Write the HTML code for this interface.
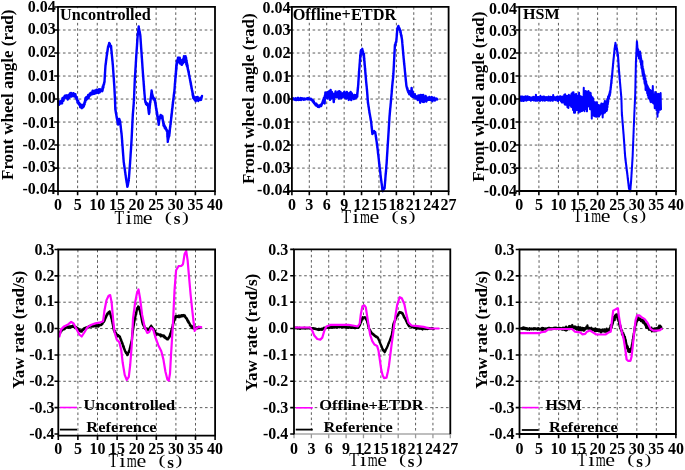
<!DOCTYPE html><html><head><meta charset="utf-8"><style>html,body{margin:0;padding:0;background:#fff;width:685px;height:470px;overflow:hidden}svg{display:block}#w{width:685px;height:470px;will-change:transform}text{font-family:"Liberation Serif",serif}</style></head><body>
<div id="w">
<svg width="685" height="470" viewBox="0 0 685 470">
<g>
<rect width="685" height="470" fill="#fff"/>
<path d="M77.62 7.10V190.10M97.25 7.10V190.10M116.88 7.10V190.10M136.50 7.10V190.10M156.12 7.10V190.10M175.75 7.10V190.10M195.38 7.10V190.10M57.70 30.01H214.00M57.70 53.02H214.00M57.70 76.04H214.00M57.70 99.05H214.00M57.70 122.06H214.00M57.70 145.07H214.00M57.70 168.09H214.00" stroke="#5c5c5c" stroke-width="1.0" stroke-dasharray="2.6 2.65" fill="none"/>
<path d="M309.31 7.00V190.10M326.72 7.00V190.10M344.13 7.00V190.10M361.54 7.00V190.10M378.96 7.00V190.10M396.37 7.00V190.10M413.78 7.00V190.10M431.19 7.00V190.10M291.60 30.01H447.60M291.60 53.02H447.60M291.60 76.04H447.60M291.60 99.05H447.60M291.60 122.06H447.60M291.60 145.07H447.60M291.60 168.09H447.60" stroke="#5c5c5c" stroke-width="1.0" stroke-dasharray="2.6 2.65" fill="none"/>
<path d="M538.88 7.10V190.00M558.45 7.10V190.00M578.02 7.10V190.00M597.60 7.10V190.00M617.17 7.10V190.00M636.75 7.10V190.00M656.33 7.10V190.00M519.00 30.01H674.90M519.00 53.02H674.90M519.00 76.04H674.90M519.00 99.05H674.90M519.00 122.06H674.90M519.00 145.07H674.90M519.00 168.09H674.90" stroke="#5c5c5c" stroke-width="1.0" stroke-dasharray="2.6 2.65" fill="none"/>
<path d="M77.90 249.70V434.70M97.50 249.70V434.70M117.10 249.70V434.70M136.70 249.70V434.70M156.30 249.70V434.70M175.90 249.70V434.70M195.50 249.70V434.70M58.00 275.86H214.10M58.00 302.21H214.10M58.00 328.57H214.10M58.00 354.93H214.10M58.00 381.29H214.10M58.00 407.64H214.10" stroke="#5c5c5c" stroke-width="1.0" stroke-dasharray="2.6 2.65" fill="none"/>
<path d="M311.37 249.50V433.00M328.73 249.50V433.00M346.10 249.50V433.00M363.47 249.50V433.00M380.83 249.50V433.00M398.20 249.50V433.00M415.57 249.50V433.00M432.93 249.50V433.00M293.70 275.77H449.30M293.70 302.14H449.30M293.70 328.51H449.30M293.70 354.89H449.30M293.70 381.26H449.30M293.70 407.63H449.30" stroke="#5c5c5c" stroke-width="1.0" stroke-dasharray="2.6 2.65" fill="none"/>
<path d="M539.05 249.70V433.00M558.60 249.70V433.00M578.15 249.70V433.00M597.70 249.70V433.00M617.25 249.70V433.00M636.80 249.70V433.00M656.35 249.70V433.00M519.20 275.86H674.90M519.20 302.21H674.90M519.20 328.57H674.90M519.20 354.93H674.90M519.20 381.29H674.90M519.20 407.64H674.90" stroke="#5c5c5c" stroke-width="1.0" stroke-dasharray="2.6 2.65" fill="none"/>
<rect x="59.2" y="8.2" width="94" height="13.6" fill="#fff"/>
<rect x="293" y="8.2" width="105" height="13.6" fill="#fff"/>
<rect x="520.5" y="8.2" width="38.3" height="13.6" fill="#fff"/>
<polyline points="58.20,101.50 58.60,101.15 59.00,104.87 59.85,101.71 60.70,103.56 61.04,100.88 61.39,102.38 61.73,100.50 62.07,103.30 62.41,98.10 62.76,100.96 63.10,97.68 63.52,100.69 63.94,97.19 64.36,98.06 64.78,95.82 65.20,97.62 65.85,95.54 66.50,98.18 67.15,95.34 67.80,99.45 68.22,96.33 68.63,97.73 69.05,94.77 69.47,97.74 69.88,93.56 70.30,95.72 70.94,92.95 71.58,96.60 72.22,93.65 72.86,95.72 73.50,93.12 73.97,96.30 74.45,94.09 74.93,96.55 75.40,94.09 75.63,97.67 75.87,96.12 76.10,98.20 76.33,97.32 76.57,99.41 76.80,97.12 77.03,100.64 77.27,99.45 77.50,102.64 77.73,100.68 77.97,102.76 78.20,100.83 78.60,103.96 79.00,102.87 79.40,104.96 79.80,103.60 80.20,107.19 80.60,104.35 81.00,107.03 81.40,104.84 81.80,108.17 82.43,105.24 83.07,107.25 83.70,104.11 83.88,106.52 84.06,104.14 84.24,105.06 84.42,102.71 84.60,104.39 84.78,101.61 84.96,102.48 85.14,99.87 85.32,102.02 85.50,98.04 85.95,100.14 86.40,96.91 86.85,99.29 87.30,96.64 87.75,98.54 88.20,94.90 88.62,98.08 89.04,94.66 89.47,96.18 89.89,93.46 90.31,95.21 90.73,92.84 91.16,94.56 91.58,92.39 92.00,94.26 92.65,90.72 93.30,93.93 93.95,90.91 94.60,93.70 95.25,90.38 95.90,93.20 96.53,89.72 97.17,92.51 97.80,90.29 98.43,93.07 99.07,89.13 99.70,92.38 100.35,89.34 101.00,91.07 101.65,89.50 102.30,91.25 102.47,87.73 102.64,90.19 102.81,86.41 102.99,88.41 103.16,86.02 103.33,87.74 103.50,84.69 103.67,85.47 103.83,83.87 104.00,84.31 104.17,82.32 104.33,82.93 104.50,81.52 104.54,81.87 104.57,79.97 104.61,80.30 104.64,78.90 104.68,79.04 104.72,77.56 104.75,77.85 104.79,76.09 104.82,76.72 104.86,74.36 104.90,75.62 104.93,74.05 104.97,74.04 105.00,72.38 105.04,73.24 105.08,71.43 105.11,71.87 105.15,70.16 105.18,70.76 105.22,68.90 105.26,69.32 105.29,68.01 105.33,68.23 105.36,66.67 105.40,66.99 105.48,65.23 105.56,65.55 105.64,63.78 105.71,64.64 105.79,62.98 105.87,63.17 105.95,61.60 106.03,62.09 106.11,59.98 106.19,60.68 106.26,58.88 106.34,59.41 106.42,57.91 106.50,58.39 106.59,56.51 106.68,56.77 106.76,55.10 106.85,55.46 106.94,54.10 107.03,54.83 107.12,52.20 107.21,53.46 107.29,51.82 107.38,51.88 107.47,50.52 107.56,51.09 107.65,49.04 107.74,49.96 107.82,48.28 107.91,48.35 108.00,46.85 108.20,47.42 108.40,45.70 108.60,46.09 108.80,44.42 109.00,44.84 109.20,42.89 109.52,44.49 109.83,43.64 110.15,45.98 110.47,45.39 110.78,46.91 111.10,45.94 111.16,48.10 111.22,47.44 111.28,49.16 111.33,49.15 111.39,50.70 111.45,50.19 111.51,51.55 111.57,51.11 111.63,53.62 111.69,52.76 111.74,54.26 111.80,53.90 111.86,55.16 111.92,55.22 111.98,56.44 112.04,56.22 112.10,57.71 112.16,57.44 112.21,58.84 112.27,58.59 112.33,60.44 112.39,59.65 112.45,61.58 112.51,60.84 112.57,62.54 112.62,62.46 112.68,64.11 112.74,63.67 112.80,64.94 112.84,64.53 112.89,66.47 112.93,66.01 112.97,67.28 113.01,67.06 113.06,69.03 113.10,68.39 113.14,69.94 113.19,69.77 113.23,71.17 113.27,70.80 113.31,72.41 113.36,72.21 113.40,73.81 113.44,72.98 113.49,74.59 113.53,74.50 113.57,75.93 113.61,75.69 113.66,77.72 113.70,76.79 113.74,78.29 113.79,77.98 113.83,79.51 113.87,78.96 113.91,81.15 113.96,80.44 114.00,82.19 114.04,81.72 114.09,83.64 114.13,83.13 114.17,84.70 114.21,84.01 114.26,86.02 114.30,85.31 114.33,87.15 114.36,86.52 114.39,88.12 114.42,88.11 114.45,89.52 114.48,89.25 114.51,90.76 114.54,90.24 114.57,91.90 114.60,91.23 114.63,93.24 114.67,91.84 114.70,94.41 114.73,94.15 114.76,95.35 114.79,95.31 114.82,96.65 114.85,96.44 114.88,98.32 114.91,97.36 114.94,99.44 114.97,98.86 115.00,100.25 115.02,100.31 115.04,101.50 115.06,100.84 115.08,103.16 115.10,102.52 115.12,103.99 115.14,103.64 115.16,105.15 115.18,104.76 115.20,106.59 115.22,106.31 115.24,107.60 115.26,106.68 115.28,109.19 115.30,108.74 115.41,110.06 115.52,109.48 115.62,111.37 115.73,110.92 115.84,112.94 115.95,112.25 116.05,113.96 116.16,113.49 116.27,115.16 116.38,114.87 116.48,116.38 116.59,116.05 116.70,117.84 116.82,116.99 116.93,119.00 117.05,118.70 117.17,120.22 117.28,119.77 117.40,121.33 117.52,120.82 117.63,122.56 117.75,122.19 117.87,123.86 117.98,123.26 118.10,124.64 118.21,123.09 118.32,123.47 118.44,122.05 118.55,122.15 118.66,120.59 118.78,120.64 118.89,119.04 119.00,119.26 119.28,118.91 119.55,120.79 119.82,120.30 120.10,121.97 120.17,121.35 120.24,122.90 120.31,122.52 120.38,124.18 120.45,124.10 120.52,125.24 120.59,125.09 120.66,126.79 120.73,126.18 120.80,127.75 120.87,127.78 120.93,129.27 121.00,128.92 121.07,130.27 121.14,130.10 121.21,131.71 121.28,130.98 121.35,133.07 121.42,132.29 121.49,133.93 121.56,133.42 121.63,135.12 121.70,135.01 121.75,136.42 121.79,136.32 121.84,137.89 121.89,137.16 121.93,138.76 121.98,138.35 122.03,139.93 122.07,139.80 122.12,141.68 122.17,140.32 122.21,142.62 122.26,142.48 122.30,143.97 122.35,143.70 122.40,144.86 122.44,144.63 122.49,146.12 122.54,145.93 122.58,147.43 122.63,146.86 122.68,148.71 122.72,148.25 122.77,150.21 122.82,149.40 122.86,151.39 122.91,150.62 122.96,152.68 123.00,152.04 123.05,153.80 123.10,153.33 123.14,154.98 123.19,154.58 123.23,155.89 123.28,155.84 123.33,157.06 123.37,157.15 123.42,158.67 123.47,158.39 123.51,159.77 123.56,159.62 123.61,160.78 123.65,160.76 123.70,162.23 123.79,162.01 123.88,163.23 123.96,163.19 124.05,164.84 124.14,164.45 124.22,166.14 124.31,165.52 124.40,167.09 124.49,167.00 124.58,168.53 124.66,168.00 124.75,169.44 124.84,169.15 124.92,170.57 125.01,170.56 125.10,172.17 125.19,171.89 125.28,173.17 125.36,172.71 125.45,174.58 125.54,174.31 125.62,175.55 125.71,175.64 125.80,177.19 125.89,176.86 125.99,178.34 126.08,177.90 126.18,179.74 126.27,178.89 126.36,180.86 126.46,180.08 126.55,182.12 126.65,181.57 126.74,182.97 126.84,182.93 126.93,184.17 127.02,184.08 127.12,185.54 127.21,185.49 127.31,186.83 127.40,186.32 127.53,186.61 127.65,185.13 127.78,185.60 127.91,184.21 128.04,184.48 128.16,182.64 128.29,182.94 128.42,181.55 128.55,181.68 128.67,180.30 128.80,180.61 128.85,178.63 128.89,179.38 128.94,177.48 128.98,177.83 129.03,176.36 129.07,176.62 129.12,175.03 129.16,175.36 129.21,174.19 129.25,174.28 129.30,172.52 129.34,173.12 129.39,171.40 129.43,171.82 129.48,170.06 129.52,170.60 129.57,168.79 129.61,169.53 129.66,168.11 129.70,168.12 129.75,166.86 129.79,166.99 129.84,165.23 129.88,165.58 129.93,163.95 129.97,164.45 130.02,163.17 130.06,163.63 130.11,161.62 130.15,161.92 130.20,160.45 130.24,160.66 130.28,159.27 130.32,159.55 130.36,158.19 130.40,158.25 130.44,157.08 130.48,157.25 130.52,155.65 130.55,156.28 130.59,154.27 130.63,154.61 130.67,153.38 130.71,153.45 130.75,151.84 130.79,152.41 130.83,151.06 130.87,151.49 130.91,149.53 130.95,150.06 130.99,148.48 131.03,149.46 131.07,147.36 131.11,147.35 131.15,145.95 131.18,146.33 131.22,144.73 131.26,145.63 131.30,143.46 131.34,144.19 131.38,142.37 131.42,142.76 131.46,140.98 131.50,141.46 131.53,139.71 131.56,140.21 131.59,138.68 131.62,139.06 131.65,137.55 131.68,138.03 131.71,136.16 131.74,136.78 131.77,134.93 131.80,135.90 131.83,134.07 131.86,134.21 131.89,132.89 131.92,133.02 131.95,131.57 131.98,131.91 132.01,129.98 132.04,130.69 132.07,129.09 132.10,129.23 132.13,127.79 132.17,127.97 132.20,126.82 132.23,127.86 132.26,125.55 132.29,125.94 132.32,123.95 132.35,124.48 132.38,122.53 132.41,123.11 132.44,121.89 132.47,122.40 132.50,120.60 132.53,120.80 132.56,119.11 132.59,119.92 132.62,118.18 132.65,118.74 132.68,117.11 132.71,117.12 132.74,115.96 132.77,116.21 132.80,114.27 132.85,115.00 132.90,113.21 132.94,113.64 132.99,112.28 133.04,112.60 133.09,111.10 133.14,111.37 133.18,109.80 133.23,110.32 133.28,108.68 133.33,109.15 133.38,107.45 133.42,107.46 133.47,106.17 133.52,106.87 133.57,104.87 133.62,105.13 133.66,103.94 133.71,104.23 133.76,102.65 133.81,102.70 133.86,100.38 133.90,101.65 133.95,100.20 134.00,100.47 134.02,98.89 134.05,99.17 134.07,97.53 134.09,98.04 134.12,96.38 134.14,97.12 134.16,95.11 134.19,95.68 134.21,94.11 134.23,94.58 134.26,93.00 134.28,93.04 134.30,91.27 134.33,92.03 134.35,90.39 134.37,90.59 134.40,89.44 134.42,89.51 134.44,88.13 134.47,88.13 134.49,86.75 134.51,87.31 134.54,85.76 134.56,85.69 134.58,84.29 134.61,84.57 134.63,83.36 134.65,83.31 134.68,82.12 134.70,82.48 134.74,80.93 134.77,80.97 134.81,78.56 134.85,79.81 134.89,77.95 134.92,78.57 134.96,77.27 135.00,77.63 135.03,75.89 135.07,76.11 135.11,74.83 135.15,75.09 135.18,73.53 135.22,73.74 135.26,72.18 135.30,72.40 135.33,70.62 135.37,71.04 135.41,69.17 135.44,69.95 135.48,68.25 135.52,69.06 135.56,67.33 135.59,67.52 135.63,66.19 135.67,66.20 135.70,64.99 135.74,64.99 135.78,63.70 135.82,64.25 135.85,62.14 135.89,62.63 135.93,61.03 135.97,61.62 136.00,60.09 136.04,60.19 136.08,58.57 136.11,58.95 136.15,57.19 136.19,57.97 136.23,55.40 136.26,56.48 136.30,55.24 136.34,55.26 136.38,53.41 136.43,54.07 136.47,52.80 136.51,53.39 136.55,51.46 136.60,51.71 136.64,50.01 136.68,50.60 136.72,49.09 136.77,49.11 136.81,47.74 136.85,48.25 136.89,46.58 136.94,46.89 136.98,45.46 137.02,45.60 137.06,43.70 137.11,44.44 137.15,42.94 137.19,43.22 137.23,41.33 137.28,41.97 137.32,40.38 137.36,40.45 137.40,39.21 137.45,39.32 137.49,37.95 137.53,38.04 137.57,36.81 137.62,36.90 137.66,35.62 137.70,35.89 137.78,33.61 137.85,34.46 137.93,33.18 138.01,33.06 138.08,31.67 138.16,31.93 138.24,30.69 138.32,31.04 138.39,29.35 138.47,29.37 138.55,27.91 138.62,28.21 138.70,26.44 138.82,28.37 138.95,28.03 139.07,29.41 139.19,28.98 139.32,31.64 139.44,30.66 139.56,31.92 139.68,31.40 139.81,33.11 139.93,32.85 140.05,34.29 140.18,34.27 140.30,35.76 140.34,35.42 140.38,37.03 140.43,36.36 140.47,38.13 140.51,38.00 140.55,39.56 140.60,38.81 140.64,40.49 140.68,40.35 140.72,41.81 140.77,41.41 140.81,42.97 140.85,42.89 140.89,44.35 140.94,44.02 140.98,45.36 141.02,45.43 141.06,46.96 141.11,46.64 141.15,48.82 141.19,47.82 141.23,49.42 141.28,48.78 141.32,50.59 141.36,50.23 141.40,51.90 141.45,51.32 141.49,53.04 141.53,52.37 141.57,53.94 141.62,53.70 141.66,55.43 141.70,54.98 141.74,56.89 141.78,56.14 141.83,57.88 141.87,57.20 141.91,58.81 141.95,58.68 142.00,60.13 142.04,59.60 142.08,61.68 142.12,61.13 142.17,62.63 142.21,62.19 142.25,63.81 142.29,63.53 142.34,65.47 142.38,64.71 142.42,66.57 142.46,66.22 142.51,67.88 142.55,67.28 142.59,69.02 142.63,68.46 142.68,70.12 142.72,69.87 142.76,71.19 142.80,70.96 142.85,72.75 142.89,72.38 142.93,73.71 142.97,73.55 143.02,74.93 143.06,74.42 143.10,75.95 143.15,75.75 143.19,77.27 143.24,76.83 143.29,78.57 143.33,78.14 143.38,79.61 143.43,79.69 143.47,80.97 143.52,80.83 143.57,82.04 143.61,81.02 143.66,83.50 143.71,82.98 143.75,84.65 143.80,84.17 143.85,86.25 143.89,85.31 143.94,87.28 143.99,85.97 144.03,88.41 144.08,88.11 144.13,89.68 144.17,89.34 144.22,90.73 144.27,90.22 144.31,91.83 144.36,91.55 144.41,93.40 144.45,92.81 144.50,94.27 144.56,94.25 144.63,95.51 144.69,95.50 144.75,97.04 144.82,96.87 144.88,98.19 144.95,98.18 145.01,99.52 145.07,99.40 145.14,100.99 145.20,100.63 145.47,102.53 145.75,101.92 146.03,104.01 146.30,102.81 146.83,104.86 147.37,103.37 147.90,106.07 147.98,104.37 148.06,106.46 148.14,105.35 148.21,108.27 148.29,106.93 148.37,109.40 148.45,107.23 148.53,110.65 148.61,109.12 148.69,112.27 148.76,110.48 148.84,113.22 148.92,111.36 149.00,114.02 149.07,112.04 149.13,112.91 149.20,110.01 149.27,112.28 149.33,108.85 149.40,112.42 149.47,107.54 149.53,109.01 149.60,106.86 149.67,108.54 149.73,105.83 149.80,106.44 149.87,104.01 149.93,105.36 150.00,102.71 150.08,104.49 150.16,101.58 150.24,103.07 150.32,101.18 150.40,102.48 150.48,99.92 150.56,100.67 150.64,98.18 150.72,99.17 150.80,97.43 150.88,98.87 150.96,96.22 151.04,97.77 151.12,94.87 151.20,96.12 151.28,93.36 151.36,94.42 151.44,92.03 151.52,93.16 151.60,90.49 151.74,93.36 151.88,91.58 152.01,94.99 152.15,93.63 152.29,95.51 152.42,94.68 152.56,96.94 152.70,95.76 153.03,98.16 153.37,97.45 153.70,99.50 154.70,98.70 154.80,101.16 154.90,99.11 155.00,102.47 155.10,100.26 155.20,103.29 155.30,102.19 155.40,104.37 155.50,103.12 155.60,105.71 155.70,104.04 155.80,106.94 155.90,105.36 156.00,108.36 156.10,107.39 156.20,109.06 156.30,108.35 156.40,110.89 156.50,108.90 156.60,111.45 156.70,110.68 156.80,113.08 156.90,111.64 157.00,114.96 157.11,112.43 157.21,116.00 157.32,114.08 157.42,116.41 157.53,115.70 157.64,117.78 157.74,117.14 157.85,118.96 157.95,117.77 158.06,120.22 158.16,119.17 158.27,121.55 158.38,120.28 158.48,122.68 158.59,122.27 158.69,124.90 158.80,123.51 158.87,124.32 158.93,122.14 159.00,122.75 159.07,120.82 159.13,121.28 159.20,119.12 159.27,120.70 159.33,117.25 159.40,118.73 159.82,116.50 160.25,118.29 160.68,114.91 161.10,117.26 161.70,115.52 162.30,118.41 162.40,116.12 162.50,118.83 162.60,117.65 162.70,120.08 162.80,119.63 162.90,121.46 163.00,120.26 163.10,122.50 163.20,122.10 163.30,123.79 163.40,123.13 163.50,125.62 163.83,123.56 164.16,126.61 164.49,125.44 164.81,128.08 165.14,126.64 165.47,128.92 165.80,127.75 166.15,129.70 166.50,129.29 166.85,131.39 167.20,130.36 167.24,132.42 167.28,131.35 167.32,134.15 167.36,133.05 167.40,136.96 167.44,133.75 167.48,136.22 167.52,135.28 167.56,137.77 167.60,136.60 167.64,138.92 167.68,138.10 167.72,139.90 167.76,138.55 167.80,141.90 167.95,139.20 168.10,139.83 168.25,137.34 168.40,138.83 168.55,136.20 168.70,137.41 168.85,135.80 169.00,136.70 169.15,133.11 169.30,136.01 169.37,132.04 169.44,134.52 169.52,131.52 169.59,133.55 169.66,130.17 169.73,132.10 169.80,129.37 169.88,130.19 169.95,127.80 170.02,128.97 170.09,126.67 170.16,127.75 170.24,125.87 170.31,127.00 170.38,124.75 170.45,125.75 170.52,123.61 170.60,125.18 170.67,122.09 170.74,123.49 170.81,120.80 170.88,121.93 170.96,119.98 171.03,120.50 171.10,118.68 171.17,119.27 171.24,117.03 171.30,118.27 171.37,115.48 171.44,117.28 171.51,114.06 171.58,116.20 171.64,113.73 171.71,114.82 171.78,112.67 171.85,113.36 171.92,111.10 171.98,112.35 172.05,109.27 172.12,111.02 172.19,108.29 172.26,109.59 172.32,107.82 172.39,108.62 172.46,106.37 172.53,107.84 172.60,104.64 172.66,106.38 172.73,104.07 172.80,104.93 172.87,102.31 172.95,104.01 173.02,101.20 173.10,102.82 173.17,100.39 173.24,101.31 173.32,98.81 173.39,99.88 173.47,97.99 173.54,98.33 173.61,96.80 173.69,97.19 173.76,95.08 173.83,96.45 173.91,94.14 173.98,95.08 174.06,92.91 174.13,93.87 174.20,92.12 174.28,92.31 174.35,90.82 174.43,91.08 174.50,89.11 174.55,89.95 174.59,88.37 174.64,88.41 174.68,86.85 174.73,87.64 174.78,85.67 174.82,86.42 174.87,83.62 174.92,85.38 174.96,83.44 175.01,83.86 175.05,81.65 175.10,82.38 175.15,80.55 175.21,81.29 175.26,79.25 175.31,80.37 175.37,77.94 175.42,79.04 175.47,75.97 175.53,77.55 175.58,75.49 175.63,77.53 175.69,73.23 175.74,76.34 175.79,73.25 175.85,74.79 175.90,71.12 175.95,74.40 176.01,69.96 176.06,71.69 176.11,67.86 176.17,71.22 176.22,66.58 176.27,70.25 176.33,65.40 176.38,68.96 176.43,63.94 176.49,68.90 176.54,63.82 176.59,65.84 176.65,62.77 176.70,65.65 176.95,60.53 177.20,63.73 177.45,60.46 177.70,62.52 177.95,57.72 178.20,61.24 178.45,57.79 178.70,60.02 179.04,57.87 179.39,61.23 179.73,57.68 180.08,63.59 180.42,60.27 180.77,63.33 181.11,60.71 181.46,64.72 181.80,60.47 182.07,64.77 182.35,59.74 182.62,63.56 182.89,59.72 183.16,63.10 183.44,58.40 183.71,60.81 183.98,56.18 184.25,61.83 184.53,56.82 184.80,60.88 185.06,56.62 185.31,60.06 185.57,56.25 185.83,61.31 186.09,57.70 186.34,64.62 186.60,60.40 186.72,63.93 186.84,62.33 186.96,66.17 187.07,63.38 187.19,65.92 187.31,64.46 187.43,67.89 187.55,65.36 187.67,68.24 187.79,67.64 187.91,69.95 188.03,69.14 188.14,70.76 188.26,69.93 188.38,71.93 188.50,71.14 188.62,73.01 188.75,71.49 188.88,74.67 189.00,74.19 189.12,75.50 189.25,75.04 189.38,76.77 189.50,76.42 189.62,78.18 189.75,77.95 189.88,79.19 190.00,78.82 190.12,80.69 190.25,80.29 190.38,82.27 190.50,81.48 190.61,83.16 190.73,82.28 190.84,84.74 190.95,83.51 191.07,85.59 191.18,85.16 191.29,86.96 191.41,86.15 191.52,88.35 191.63,87.67 191.75,89.08 191.86,88.62 191.97,90.39 192.09,90.08 192.20,91.50 192.31,90.74 192.42,92.64 192.53,91.99 192.64,94.87 192.75,93.13 192.86,95.99 192.97,93.69 193.08,96.58 193.19,95.25 193.30,98.28 193.64,96.23 193.98,98.97 194.32,97.21 194.66,99.85 195.00,97.62 195.67,101.32 196.33,97.23 197.00,100.15 197.67,97.02 198.33,101.01 199.00,98.59 199.67,99.84 200.33,97.79 201.00,99.97 202.00,95.93" stroke="#0000ff" stroke-width="2.4" fill="none" stroke-linejoin="round" stroke-linecap="round"/>
<polyline points="292.50,99.20 293.12,98.23 293.75,99.32 294.38,98.91 295.00,99.77 295.62,98.24 296.25,100.06 296.88,98.49 297.50,99.74 298.12,97.80 298.75,99.90 299.38,98.68 300.00,99.84 300.62,98.04 301.25,99.91 301.88,98.24 302.50,99.20 303.12,98.54 303.75,99.80 304.38,98.61 305.00,99.45 305.65,98.66 306.30,99.01 306.95,98.37 307.60,99.32 308.25,98.02 308.90,99.34 309.55,98.65 310.20,99.53 310.87,98.74 311.53,99.99 312.20,99.83 312.59,101.12 312.98,100.28 313.36,102.15 313.75,101.36 314.14,103.30 314.52,102.93 314.91,104.24 315.30,103.77 315.80,105.27 316.30,103.75 316.80,105.72 317.30,104.72 317.80,106.80 318.30,105.78 318.90,107.09 319.50,105.43 320.10,106.33 320.70,104.73 321.30,105.90 321.53,104.58 321.77,104.79 322.00,103.36 322.23,103.59 322.47,102.21 322.70,102.57 322.93,100.78 323.17,102.79 323.40,99.38 323.65,100.98 323.90,97.86 324.15,101.66 324.40,97.23 324.65,103.43 324.90,95.55 325.15,97.86 325.40,92.34 326.06,96.87 326.71,93.20 327.37,98.64 328.03,91.83 328.69,96.62 329.34,91.14 330.00,99.92 330.62,89.85 331.25,98.66 331.88,92.06 332.50,98.12 333.12,94.06 333.75,102.14 334.38,93.80 335.00,96.57 335.62,91.52 336.25,97.20 336.88,93.22 337.50,96.90 338.12,91.78 338.75,98.57 339.38,91.13 340.00,97.36 340.62,92.14 341.25,98.39 341.88,93.64 342.50,97.26 343.12,93.20 343.75,96.51 344.38,91.66 345.00,97.84 345.62,94.86 346.25,98.65 346.88,92.03 347.50,96.54 348.12,93.56 348.75,99.93 349.38,93.20 350.00,97.59 350.62,91.85 351.25,100.14 351.88,93.32 352.50,97.66 353.12,95.54 353.75,99.02 354.38,94.91 355.00,98.51 355.73,95.26 356.47,97.72 357.20,94.08 357.26,96.62 357.31,92.67 357.37,94.51 357.42,92.53 357.48,93.34 357.53,91.72 357.59,92.01 357.64,89.80 357.70,91.23 357.76,88.61 357.81,89.76 357.87,87.55 357.92,88.58 357.98,87.27 358.03,87.63 358.09,85.84 358.14,85.77 358.20,84.77 358.24,85.19 358.28,83.31 358.32,84.36 358.36,81.64 358.40,82.35 358.44,80.69 358.48,81.18 358.52,79.61 358.56,80.04 358.60,78.41 358.64,78.72 358.68,76.96 358.72,77.77 358.76,75.98 358.80,76.31 358.84,74.99 358.88,75.23 358.92,73.56 358.96,74.08 359.00,71.53 359.04,73.07 359.08,70.93 359.12,71.96 359.16,70.28 359.20,70.45 359.25,68.77 359.30,69.30 359.34,67.91 359.39,68.16 359.44,66.73 359.49,66.92 359.53,65.51 359.58,65.52 359.63,63.90 359.68,64.73 359.73,62.94 359.77,62.96 359.82,61.80 359.87,62.39 359.92,59.78 359.97,61.06 360.01,59.12 360.06,60.53 360.11,57.69 360.16,58.29 360.20,55.21 360.25,58.63 360.30,54.77 360.41,57.74 360.52,53.60 360.63,54.63 360.74,51.36 360.86,53.77 360.97,50.31 361.08,52.54 361.19,50.69 361.30,51.38 362.30,48.82 362.49,51.03 362.68,50.48 362.86,53.90 363.05,51.63 363.24,54.99 363.43,53.28 363.61,55.08 363.80,53.96 363.86,57.93 363.92,53.93 363.98,57.27 364.04,55.45 364.09,60.32 364.15,58.35 364.21,60.17 364.27,58.06 364.33,61.46 364.39,60.62 364.45,62.78 364.51,61.10 364.56,64.95 364.62,62.85 364.68,65.07 364.74,64.58 364.80,66.12 364.85,65.52 364.90,67.80 364.95,66.82 365.00,69.53 365.05,68.16 365.10,69.67 365.15,68.35 365.20,70.65 365.25,70.15 365.30,72.21 365.35,71.99 365.40,73.70 365.45,72.77 365.50,74.64 365.55,73.99 365.60,75.92 365.65,75.34 365.70,76.97 365.75,76.44 365.80,77.87 365.85,77.65 365.90,79.40 365.95,78.54 366.00,80.27 366.06,80.31 366.12,81.59 366.19,81.72 366.25,82.89 366.31,82.80 366.38,84.35 366.44,84.12 366.50,85.67 366.56,85.35 366.62,86.55 366.69,86.63 366.75,88.28 366.81,87.98 366.88,89.52 366.94,89.04 367.00,90.60 367.05,90.21 367.09,91.81 367.13,91.45 367.18,92.71 367.23,92.61 367.27,94.21 367.31,93.90 367.36,95.19 367.40,94.66 367.45,96.43 367.50,96.18 367.54,97.67 367.58,97.48 367.63,99.00 367.67,98.28 367.72,100.36 367.76,99.75 367.81,100.92 367.85,100.81 367.90,103.07 367.99,102.08 368.09,103.56 368.18,103.53 368.27,104.61 368.37,104.88 368.46,106.45 368.56,106.18 368.65,107.52 368.74,106.98 368.84,108.36 368.93,108.64 369.02,109.83 369.12,109.77 369.21,110.94 369.31,110.70 369.40,112.69 369.51,112.31 369.61,113.55 369.72,113.52 369.82,114.60 369.93,114.60 370.04,116.01 370.14,115.97 370.25,117.13 370.36,117.14 370.46,118.28 370.57,118.15 370.68,119.98 370.78,119.69 370.89,120.89 370.99,120.67 371.10,122.08 371.17,121.69 371.23,123.30 371.30,123.13 371.36,124.30 371.43,124.28 371.49,125.58 371.56,125.85 371.62,127.29 371.69,126.40 371.75,128.26 371.81,127.97 371.88,129.30 371.94,128.92 372.01,130.55 372.07,130.70 372.14,132.08 372.20,131.52 372.27,132.96 372.33,132.51 372.40,134.09 372.70,132.80 373.00,133.25 373.30,131.32 373.60,132.19 374.17,131.11 374.73,132.64 375.30,132.35 375.39,133.71 375.48,133.54 375.57,134.80 375.66,134.66 375.75,136.40 375.85,135.61 375.94,137.38 376.03,137.06 376.12,138.89 376.21,137.71 376.30,139.93 376.39,139.41 376.48,140.83 376.57,141.01 376.66,142.23 376.75,142.03 376.85,143.79 376.94,143.39 377.03,144.77 377.12,144.27 377.21,146.31 377.30,146.07 377.37,147.93 377.44,147.11 377.50,148.43 377.57,148.49 377.64,149.94 377.71,149.48 377.77,150.73 377.84,150.69 377.91,152.36 377.98,151.91 378.05,153.63 378.11,153.03 378.18,154.66 378.25,153.96 378.32,155.53 378.39,155.65 378.45,156.74 378.52,156.49 378.59,158.20 378.66,157.68 378.73,159.21 378.79,158.84 378.86,160.56 378.93,160.55 379.00,161.96 379.06,161.55 379.13,163.35 379.20,162.62 379.27,164.54 379.34,164.06 379.41,165.29 379.48,164.36 379.55,166.59 379.62,166.83 379.70,168.26 379.77,168.01 379.84,169.43 379.91,168.75 379.98,170.73 380.05,170.01 380.12,171.38 380.19,171.48 380.26,172.66 380.33,171.81 380.40,173.84 380.47,174.07 380.55,175.31 380.62,175.42 380.69,176.37 380.76,176.39 380.83,177.62 380.90,177.87 380.98,178.79 381.06,178.97 381.14,180.57 381.22,179.80 381.30,181.45 381.39,181.19 381.47,182.57 381.55,182.74 381.63,183.70 381.71,183.56 381.79,185.01 381.87,184.96 381.95,186.18 382.03,186.04 382.11,187.92 382.20,187.11 382.28,189.08 382.36,188.38 382.44,190.33 382.52,189.61 382.60,191.28 382.93,189.84 383.27,190.16 383.60,188.84 383.93,189.03 384.27,187.86 384.60,188.28 384.65,186.74 384.70,187.23 384.75,185.82 384.80,185.52 384.85,184.21 384.90,184.25 384.95,183.32 385.00,183.29 385.05,181.69 385.10,182.05 385.15,180.86 385.20,180.63 385.25,179.53 385.30,180.34 385.35,178.35 385.40,178.12 385.45,176.95 385.50,177.04 385.55,175.38 385.60,175.69 385.65,173.79 385.70,174.82 385.75,173.13 385.80,173.84 385.85,172.15 385.90,172.31 385.95,170.94 386.00,171.97 386.05,169.79 386.10,169.98 386.15,168.69 386.20,168.90 386.25,167.12 386.30,167.71 386.35,165.81 386.40,166.05 386.45,164.65 386.50,164.88 386.55,163.79 386.60,164.05 386.64,162.56 386.68,162.72 386.72,161.32 386.75,161.37 386.79,159.60 386.83,160.25 386.87,158.72 386.91,158.93 386.95,157.05 386.99,157.31 387.03,156.05 387.06,156.45 387.10,154.90 387.14,155.15 387.18,152.88 387.22,153.96 387.26,152.40 387.30,152.73 387.33,151.19 387.37,151.71 387.41,150.30 387.45,150.23 387.49,148.88 387.53,148.80 387.57,147.33 387.60,148.01 387.64,146.60 387.68,146.43 387.72,145.11 387.76,145.47 387.80,142.92 387.84,144.21 387.88,142.78 387.91,143.21 387.95,141.40 387.99,141.64 388.03,140.03 388.07,140.76 388.11,138.90 388.15,139.27 388.18,137.99 388.22,138.09 388.26,136.71 388.30,136.57 388.34,135.32 388.38,135.57 388.41,134.19 388.45,134.26 388.49,133.06 388.53,133.07 388.56,131.81 388.60,131.90 388.64,130.50 388.68,130.98 388.71,129.46 388.75,129.37 388.79,128.13 388.82,128.09 388.86,126.63 388.90,127.31 388.94,125.57 388.98,125.76 389.01,124.27 389.05,124.49 389.09,123.10 389.12,123.41 389.16,122.16 389.20,121.90 389.24,120.75 389.27,120.91 389.31,119.52 389.35,119.99 389.39,118.29 389.43,118.60 389.46,117.29 389.50,117.08 389.56,115.91 389.61,115.82 389.67,114.58 389.72,115.06 389.78,113.09 389.83,113.34 389.89,111.77 389.94,112.44 390.00,109.94 390.06,111.12 390.11,109.83 390.17,109.65 390.22,108.16 390.28,108.44 390.33,107.20 390.39,107.81 390.44,106.26 390.50,106.45 390.56,104.74 390.61,104.89 390.67,103.77 390.72,103.68 390.78,102.73 390.83,102.73 390.89,101.16 390.94,101.60 391.00,99.26 391.06,100.58 391.11,98.45 391.17,99.30 391.22,97.87 391.28,97.64 391.33,96.27 391.39,97.16 391.44,94.84 391.50,95.12 391.55,94.10 391.60,94.23 391.65,93.00 391.70,93.24 391.75,90.60 391.80,91.75 391.85,90.43 391.90,90.44 391.95,88.60 392.00,88.89 392.05,87.88 392.10,88.13 392.15,86.19 392.20,86.69 392.25,84.98 392.30,85.70 392.37,84.23 392.43,84.31 392.50,82.55 392.57,83.24 392.63,81.16 392.70,81.63 392.77,80.27 392.83,80.61 392.90,79.07 392.97,79.57 393.03,77.74 393.10,78.08 393.17,76.82 393.23,76.57 393.30,74.76 393.33,75.80 393.36,74.32 393.40,74.02 393.43,73.13 393.46,72.84 393.49,71.55 393.52,71.71 393.56,70.48 393.59,70.71 393.62,69.11 393.65,69.80 393.68,67.96 393.72,68.17 393.75,66.43 393.78,66.81 393.81,65.82 393.84,66.16 393.88,64.15 393.91,64.43 393.94,63.44 393.97,63.69 394.00,61.59 394.04,62.06 394.07,60.77 394.10,60.95 394.13,59.76 394.16,59.50 394.20,58.55 394.23,58.83 394.26,57.30 394.29,57.67 394.32,55.28 394.36,56.30 394.39,54.67 394.42,54.96 394.45,53.49 394.48,53.52 394.52,51.58 394.55,53.01 394.58,50.96 394.61,51.58 394.64,49.74 394.68,50.17 394.71,48.50 394.74,48.73 394.77,47.46 394.80,47.35 394.84,45.94 394.87,46.71 394.90,44.88 395.10,45.62 395.30,44.03 395.50,43.82 395.70,42.45 395.90,42.78 396.10,41.77 396.30,42.04 396.35,40.25 396.40,40.83 396.45,38.88 396.50,39.63 396.55,38.10 396.60,38.21 396.65,36.69 396.70,37.09 396.75,35.69 396.80,35.94 396.85,34.46 396.90,34.84 396.95,33.04 397.00,33.59 397.05,31.74 397.10,32.31 397.15,30.32 397.20,30.69 397.25,29.76 397.30,29.99 397.52,27.90 397.74,28.32 397.96,27.03 398.18,27.00 398.40,25.86 398.62,27.50 398.84,27.15 399.07,28.06 399.29,28.03 399.51,29.35 399.73,28.96 399.96,30.73 400.18,30.33 400.40,32.56 400.52,30.69 400.65,32.86 400.77,32.69 400.89,34.59 401.02,34.20 401.14,35.55 401.26,34.90 401.38,36.55 401.51,35.64 401.63,37.94 401.75,37.83 401.88,39.16 402.00,39.28 402.05,40.57 402.11,40.13 402.16,41.77 402.22,41.71 402.27,42.97 402.32,42.61 402.38,43.91 402.43,44.23 402.48,45.19 402.54,45.44 402.59,46.62 402.65,46.14 402.70,48.19 402.75,47.34 402.81,49.41 402.86,48.72 402.92,50.45 402.97,49.82 403.02,51.55 403.08,51.26 403.13,52.74 403.18,52.40 403.24,53.83 403.29,53.90 403.35,55.34 403.40,55.05 403.46,56.23 403.52,55.95 403.58,57.96 403.64,57.72 403.70,59.20 403.76,58.69 403.81,59.84 403.87,59.72 403.93,61.61 403.99,60.84 404.05,62.47 404.11,62.49 404.17,64.50 404.23,63.15 404.29,64.90 404.35,64.97 404.41,65.89 404.47,65.64 404.53,67.19 404.59,67.38 404.64,68.49 404.70,68.11 404.76,69.52 404.82,69.57 404.88,71.28 404.94,70.73 405.00,72.21 405.06,72.08 405.12,73.11 405.18,73.24 405.24,74.63 405.30,74.00 405.37,75.94 405.43,75.89 405.49,77.33 405.55,76.58 405.61,78.06 405.67,78.36 405.73,79.89 405.79,79.08 405.85,81.10 405.91,80.57 405.97,81.78 406.03,81.97 406.10,83.07 406.16,82.90 406.22,84.50 406.28,84.42 406.34,85.42 406.40,85.46 406.59,86.79 406.77,87.01 406.96,88.24 407.15,87.71 407.34,89.60 407.52,88.74 407.71,90.88 407.90,90.64 408.36,92.42 408.82,90.99 409.29,94.37 409.75,92.18 410.21,94.20 410.68,91.28 411.14,95.80 411.60,87.90 412.14,96.72 412.69,91.41 413.23,97.23 413.78,94.64 414.32,97.06 414.87,94.28 415.41,98.53 415.96,96.28 416.50,98.46 417.11,96.36 417.73,100.04 418.34,95.40 418.95,98.98 419.56,95.44 420.17,102.76 420.79,94.84 421.40,100.79 422.01,95.36 422.62,101.69 423.22,94.96 423.83,102.00 424.44,97.86 425.05,100.29 425.66,96.05 426.27,101.53 426.88,97.56 427.48,100.03 428.09,98.23 428.70,99.64 429.31,96.87 429.93,99.82 430.54,98.15 431.16,100.13 431.77,97.09 432.39,101.21 433.00,97.84 433.61,99.66 434.23,97.67 434.84,100.62 435.46,98.69 436.07,99.38 436.69,98.64 437.30,99.42" stroke="#0000ff" stroke-width="2.4" fill="none" stroke-linejoin="round" stroke-linecap="round"/>
<polyline points="520.00,98.50 520.45,96.53 520.91,100.84 521.36,96.43 521.82,100.98 522.27,96.45 522.73,100.41 523.18,96.65 523.64,101.03 524.09,96.99 524.55,100.41 525.00,96.58 525.45,100.32 525.91,96.16 526.36,100.68 526.82,97.39 527.27,100.14 527.73,96.25 528.18,99.92 528.64,97.17 529.09,99.77 529.55,97.11 530.00,100.02 530.45,97.50 530.91,100.80 531.36,97.39 531.82,99.95 532.27,97.50 532.73,100.07 533.18,96.71 533.64,100.44 534.09,96.89 534.55,100.23 535.00,96.99 535.45,100.86 535.91,94.69 536.36,100.55 536.82,97.25 537.27,100.77 537.73,97.03 538.18,99.89 538.64,96.92 539.09,100.46 539.55,97.06 540.00,101.01 540.45,95.75 540.91,100.37 541.36,97.30 541.82,100.07 542.27,96.91 542.73,100.62 543.18,96.47 543.64,100.36 544.09,96.52 544.55,100.74 545.00,97.04 545.45,100.56 545.91,97.40 546.36,100.09 546.82,96.95 547.27,99.97 547.73,97.58 548.18,100.68 548.64,96.42 549.09,99.71 549.55,97.14 550.00,100.69 550.45,96.75 550.91,100.63 551.36,97.36 551.82,100.10 552.27,96.72 552.73,100.82 553.18,94.99 553.64,99.62 554.09,96.87 554.55,99.75 555.00,97.20 555.45,100.15 555.91,97.37 556.36,99.75 556.82,96.77 557.27,100.70 557.73,96.53 558.18,101.17 558.64,96.94 559.09,100.12 559.55,96.43 560.00,99.56 560.50,96.21 561.00,101.38 561.50,96.87 562.00,102.55 562.50,96.77 563.00,102.46 563.43,96.23 563.86,101.62 564.29,94.78 564.71,104.48 565.14,94.24 565.57,104.76 566.00,96.36 566.48,104.73 566.96,95.82 567.44,107.20 567.92,95.78 568.40,108.08 568.85,94.80 569.30,104.99 569.75,96.28 570.20,105.32 570.65,95.33 571.10,106.68 571.55,93.49 572.00,107.14 572.50,92.53 573.00,110.08 573.50,92.34 574.00,112.66 574.50,95.01 575.00,112.67 575.45,94.24 575.91,109.47 576.36,94.01 576.82,110.21 577.27,95.96 577.73,109.10 578.18,95.61 578.64,112.63 579.09,92.72 579.55,109.62 580.00,96.06 580.43,111.81 580.86,96.52 581.29,107.27 581.71,96.63 582.14,111.03 582.57,97.47 583.00,108.73 583.25,98.50 583.50,107.50 583.75,87.81 584.00,110.21 584.25,95.42 584.50,111.18 584.75,93.48 585.00,107.29 585.49,91.12 585.98,108.90 586.47,91.53 586.96,111.37 587.44,92.79 587.93,106.30 588.42,90.90 588.91,106.11 589.40,92.80 589.62,107.05 589.83,92.60 590.05,109.35 590.27,94.02 590.48,108.39 590.70,92.99 590.92,109.49 591.13,95.76 591.35,108.81 591.57,99.03 591.78,118.62 592.00,97.98 592.25,110.93 592.50,97.22 592.75,113.61 593.00,98.18 593.25,113.85 593.50,100.81 593.75,115.67 594.00,101.68 594.25,115.03 594.50,102.22 594.75,116.22 595.00,103.01 595.45,116.44 595.91,102.37 596.36,116.66 596.82,102.14 597.27,115.90 597.73,104.87 598.18,116.56 598.64,105.31 599.09,116.44 599.55,105.71 600.00,114.85 600.44,105.12 600.89,112.43 601.33,103.50 601.78,113.73 602.22,103.79 602.67,117.58 603.11,103.97 603.56,113.48 604.00,103.35 604.38,112.79 604.75,100.91 605.12,112.51 605.50,101.17 605.88,110.25 606.25,102.01 606.62,110.90 607.00,102.03 607.10,109.99 607.20,98.96 607.30,105.99 607.40,100.45 607.50,107.22 607.60,99.20 607.70,104.81 607.80,98.56 607.90,104.15 608.00,96.76 608.10,102.69 608.20,96.37 608.30,101.67 608.40,96.68 608.50,99.29 608.63,95.92 608.76,98.45 608.89,95.11 609.01,98.34 609.14,94.33 609.27,96.45 609.40,93.51 609.53,96.14 609.66,91.97 609.79,95.61 609.91,91.63 610.04,94.65 610.17,90.21 610.30,93.64 610.35,89.89 610.40,92.86 610.45,88.39 610.50,91.36 610.55,87.23 610.60,89.98 610.65,86.47 610.70,89.38 610.75,86.50 610.80,89.15 610.85,84.54 610.90,87.84 610.95,84.56 611.00,87.45 611.05,82.89 611.10,85.64 611.15,82.01 611.20,85.57 611.25,80.27 611.30,84.39 611.35,80.30 611.40,83.11 611.45,79.44 611.50,82.01 611.55,78.86 611.60,83.29 611.65,77.80 611.70,80.74 611.75,76.62 611.80,79.88 611.85,76.63 611.90,78.45 611.95,75.35 612.00,77.79 612.04,74.41 612.08,76.81 612.12,73.56 612.16,75.90 612.21,72.77 612.25,74.99 612.29,71.71 612.33,75.16 612.37,70.51 612.41,72.49 612.45,70.16 612.49,72.35 612.54,68.74 612.58,70.97 612.62,67.92 612.66,69.84 612.70,67.19 612.74,68.92 612.78,66.64 612.82,68.50 612.86,65.89 612.91,67.52 612.95,64.31 612.99,66.20 613.03,63.62 613.07,65.21 613.11,62.86 613.15,64.88 613.19,62.45 613.24,64.12 613.28,60.98 613.32,62.78 613.36,60.25 613.40,61.85 613.45,59.09 613.49,61.29 613.54,58.48 613.58,59.97 613.63,57.81 613.68,59.02 613.72,56.94 613.77,57.97 613.82,55.89 613.86,57.07 613.91,54.79 613.95,56.04 614.00,54.28 614.05,55.19 614.09,53.25 614.14,54.64 614.18,52.37 614.23,53.59 614.28,51.19 614.32,52.79 614.37,50.22 614.42,51.87 614.46,49.20 614.51,51.01 614.55,48.33 614.60,49.57 614.67,47.84 614.75,48.62 614.82,46.76 614.89,48.23 614.96,45.54 615.04,47.40 615.11,44.77 615.18,46.28 615.25,44.23 615.33,44.93 615.40,42.82 615.53,45.38 615.65,43.64 615.78,46.43 615.91,45.09 616.04,47.06 616.16,45.52 616.29,49.19 616.42,46.44 616.55,49.27 616.67,47.10 616.80,50.30 616.88,48.10 616.96,50.85 617.04,48.56 617.12,51.69 617.20,49.55 617.28,53.18 617.36,51.07 617.44,55.59 617.52,51.70 617.60,54.54 617.68,52.32 617.76,55.86 617.84,53.96 617.92,56.80 618.00,54.61 618.03,57.26 618.06,55.37 618.09,59.07 618.12,56.62 618.15,59.61 618.18,56.99 618.21,60.69 618.24,57.95 618.27,61.72 618.30,59.38 618.33,62.04 618.36,59.90 618.39,63.49 618.42,59.67 618.45,63.72 618.48,61.74 618.51,64.88 618.54,62.91 618.57,66.99 618.60,63.27 618.63,66.51 618.66,64.14 618.69,67.28 618.72,65.27 618.75,68.56 618.78,66.77 618.81,69.53 618.84,66.87 618.87,69.92 618.90,67.92 618.94,71.06 618.98,68.96 619.01,72.08 619.05,70.19 619.09,72.82 619.13,70.97 619.17,73.39 619.21,71.76 619.24,74.59 619.28,72.55 619.32,75.23 619.36,73.99 619.40,76.55 619.44,74.94 619.47,78.13 619.51,75.71 619.55,77.88 619.59,76.71 619.63,79.19 619.66,77.45 619.70,79.94 619.74,78.47 619.78,80.57 619.82,79.22 619.86,81.61 619.89,79.17 619.93,82.42 619.97,81.42 620.01,83.51 620.05,82.02 620.09,84.15 620.12,82.93 620.16,85.10 620.20,83.76 620.24,85.87 620.28,84.58 620.32,86.99 620.36,85.60 620.40,87.69 620.44,86.42 620.48,88.53 620.52,87.29 620.56,89.50 620.60,88.40 620.64,90.47 620.68,88.99 620.72,91.32 620.76,90.45 620.80,92.26 620.84,91.32 620.88,93.23 620.92,92.15 620.96,94.19 621.00,92.88 621.04,94.98 621.08,94.18 621.12,96.08 621.16,94.50 621.20,96.76 621.24,95.90 621.28,97.59 621.32,96.32 621.36,98.50 621.40,97.63 621.41,99.46 621.43,98.19 621.44,100.41 621.45,99.22 621.46,101.77 621.48,100.33 621.49,102.16 621.50,101.35 621.52,103.47 621.53,101.85 621.54,104.35 621.55,102.81 621.57,105.12 621.58,102.95 621.59,105.85 621.61,104.63 621.62,106.77 621.63,105.86 621.65,108.08 621.66,105.44 621.67,108.62 621.68,107.36 621.70,109.65 621.71,108.68 621.72,110.25 621.74,109.14 621.75,111.38 621.76,110.18 621.77,112.10 621.79,111.01 621.80,113.41 621.84,111.85 621.87,115.39 621.91,111.90 621.95,114.82 621.98,113.84 622.02,116.20 622.06,114.80 622.09,116.88 622.13,115.62 622.17,117.55 622.20,116.78 622.24,118.85 622.28,117.14 622.31,119.57 622.35,118.63 622.39,120.79 622.42,119.58 622.46,121.71 622.50,120.04 622.53,122.55 622.57,121.06 622.61,123.43 622.64,122.28 622.68,124.24 622.72,123.05 622.76,125.17 622.79,124.04 622.83,125.86 622.87,124.79 622.90,126.80 622.94,125.33 622.98,128.03 623.01,126.57 623.05,128.68 623.09,127.57 623.12,129.81 623.16,128.41 623.20,130.54 623.23,129.19 623.27,131.53 623.31,130.43 623.34,132.59 623.38,131.41 623.42,133.47 623.45,131.71 623.49,133.98 623.53,133.23 623.56,135.08 623.60,133.83 623.63,135.95 623.67,134.50 623.70,136.99 623.73,135.61 623.76,138.35 623.80,136.57 623.83,138.54 623.86,137.40 623.89,139.57 623.93,138.19 623.96,140.84 623.99,139.37 624.02,141.37 624.06,139.95 624.09,142.22 624.12,141.04 624.16,143.24 624.19,142.09 624.22,144.16 624.25,143.14 624.29,145.00 624.32,144.06 624.35,146.27 624.38,144.75 624.42,146.86 624.45,145.80 624.48,147.84 624.51,146.55 624.55,148.97 624.58,147.86 624.61,149.84 624.64,147.62 624.68,150.82 624.71,149.69 624.74,151.53 624.78,150.52 624.81,153.37 624.84,151.19 624.87,153.64 624.91,152.34 624.94,154.04 624.97,152.77 625.00,155.13 625.04,154.18 625.07,156.09 625.10,154.88 625.13,157.05 625.17,155.77 625.20,157.77 625.25,156.50 625.31,158.94 625.37,157.51 625.42,160.00 625.48,157.96 625.53,160.93 625.59,158.88 625.64,161.36 625.70,160.19 625.75,162.62 625.81,161.42 625.86,163.23 625.92,162.19 625.97,163.96 626.02,163.18 626.08,164.82 626.13,163.99 626.19,165.92 626.25,164.82 626.30,166.84 626.36,165.64 626.41,167.63 626.47,166.64 626.52,168.73 626.58,167.20 626.63,170.49 626.68,168.30 626.74,170.41 626.79,168.93 626.85,171.27 626.90,170.18 626.96,172.13 627.01,170.96 627.07,173.20 627.12,171.80 627.18,174.07 627.24,172.71 627.29,174.76 627.35,173.57 627.40,175.81 627.46,174.89 627.51,176.79 627.57,175.37 627.62,177.99 627.68,176.65 627.73,178.83 627.79,177.24 627.84,179.79 627.90,178.45 627.95,180.66 628.01,178.48 628.06,181.16 628.12,179.93 628.17,182.41 628.23,181.20 628.28,183.11 628.34,181.50 628.39,183.90 628.45,182.65 628.50,185.29 628.56,183.52 628.61,185.86 628.67,184.74 628.72,186.93 628.78,185.99 628.83,188.05 628.89,186.36 628.94,188.72 629.00,187.48 629.26,189.48 629.52,188.30 629.78,190.49 630.04,189.14 630.30,191.32 630.34,189.58 630.38,190.96 630.41,188.13 630.45,189.47 630.49,187.32 630.52,188.51 630.56,186.32 630.60,188.08 630.64,185.80 630.67,186.59 630.71,184.42 630.75,185.89 630.79,183.69 630.83,185.08 630.86,182.72 630.90,183.97 630.94,181.91 630.98,183.49 631.01,181.28 631.05,182.55 631.09,180.26 631.12,181.57 631.16,179.27 631.20,180.36 631.23,178.36 631.26,179.47 631.29,177.16 631.31,178.51 631.34,176.58 631.37,177.83 631.40,175.67 631.43,176.96 631.46,174.66 631.49,175.56 631.51,173.93 631.54,174.68 631.57,172.38 631.60,173.87 631.63,171.69 631.66,173.26 631.69,170.67 631.71,172.33 631.74,170.26 631.77,171.13 631.80,169.26 631.83,170.52 631.86,168.03 631.89,169.25 631.91,167.48 631.94,168.58 631.97,166.12 632.00,167.62 632.03,165.29 632.06,166.84 632.09,164.77 632.11,165.68 632.14,163.83 632.17,164.91 632.20,162.37 632.23,163.80 632.26,161.88 632.29,162.71 632.31,160.74 632.34,162.13 632.37,159.85 632.40,161.33 632.43,158.70 632.46,160.43 632.49,157.83 632.51,159.28 632.54,157.13 632.57,158.38 632.60,156.31 632.62,157.60 632.64,155.40 632.66,156.52 632.67,154.48 632.69,155.45 632.71,153.38 632.73,154.96 632.75,152.60 632.77,153.74 632.78,151.39 632.80,152.69 632.82,150.66 632.84,151.83 632.86,149.87 632.88,151.36 632.89,148.60 632.91,149.97 632.93,147.95 632.95,149.43 632.97,146.94 632.99,148.20 633.00,146.07 633.02,147.48 633.04,144.57 633.06,146.80 633.08,144.54 633.10,145.59 633.11,143.21 633.13,145.02 633.15,142.66 633.17,143.84 633.19,141.79 633.21,142.60 633.22,140.89 633.24,142.12 633.26,139.96 633.28,141.32 633.30,138.59 633.32,140.13 633.33,138.12 633.35,139.50 633.37,136.86 633.39,138.54 633.41,135.80 633.43,137.51 633.44,135.02 633.46,136.26 633.48,134.41 633.50,136.68 633.52,133.56 633.54,134.88 633.56,132.50 633.57,133.96 633.59,131.48 633.61,133.01 633.63,130.57 633.65,131.95 633.67,129.59 633.68,130.71 633.70,128.72 633.72,130.16 633.74,128.09 633.76,128.90 633.78,126.79 633.79,128.36 633.81,126.38 633.83,127.13 633.85,125.12 633.87,126.36 633.89,124.22 633.90,125.45 633.92,123.30 633.94,124.67 633.96,122.73 633.98,123.93 634.00,121.68 634.01,122.64 634.03,120.78 634.05,121.85 634.07,119.54 634.09,120.68 634.11,119.07 634.12,120.05 634.14,118.00 634.16,119.04 634.18,116.97 634.20,118.09 634.22,115.95 634.23,117.58 634.25,115.18 634.27,116.62 634.29,114.33 634.31,115.71 634.33,113.00 634.34,114.85 634.36,112.27 634.38,113.66 634.40,111.47 634.42,112.69 634.44,110.75 634.46,111.77 634.48,110.01 634.51,111.12 634.53,109.11 634.55,109.92 634.57,107.84 634.59,109.38 634.61,107.21 634.63,108.06 634.65,106.23 634.67,107.58 634.69,104.92 634.72,106.59 634.74,104.34 634.76,105.39 634.78,103.46 634.80,104.70 634.82,101.59 634.84,103.45 634.86,101.40 634.88,102.78 634.91,100.41 634.93,102.95 634.95,99.53 634.97,100.69 634.99,98.62 635.01,99.92 635.03,97.96 635.05,99.28 635.07,97.02 635.09,97.87 635.12,95.83 635.14,96.96 635.16,94.91 635.18,95.97 635.20,94.35 635.21,95.16 635.22,92.54 635.23,94.55 635.24,92.24 635.25,93.57 635.26,91.59 635.27,92.57 635.28,90.41 635.29,91.45 635.30,89.74 635.31,90.82 635.32,89.11 635.33,90.00 635.34,88.07 635.35,89.23 635.36,87.18 635.37,88.35 635.38,85.30 635.38,87.29 635.39,84.99 635.40,86.26 635.41,84.32 635.42,85.51 635.43,83.16 635.44,84.50 635.45,82.28 635.46,83.61 635.47,81.51 635.48,82.73 635.49,80.74 635.50,81.72 635.51,79.55 635.52,81.11 635.53,79.04 635.54,80.19 635.55,78.17 635.56,79.22 635.57,77.02 635.58,78.09 635.59,76.04 635.60,77.13 635.61,75.22 635.62,76.29 635.63,74.32 635.64,75.50 635.65,73.47 635.66,74.44 635.67,72.45 635.68,73.60 635.69,71.92 635.70,73.18 635.71,70.87 635.72,71.99 635.73,69.67 635.73,71.01 635.74,69.06 635.75,70.09 635.76,68.20 635.77,69.10 635.78,67.46 635.79,68.15 635.80,66.34 635.81,67.50 635.82,65.43 635.83,66.58 635.84,64.25 635.85,65.36 635.86,63.58 635.87,64.79 635.88,62.76 635.89,63.55 635.90,61.10 635.92,63.15 635.94,61.07 635.97,62.12 635.99,60.12 636.01,61.23 636.03,59.20 636.05,59.96 636.07,58.05 636.10,59.48 636.12,57.44 636.14,58.61 636.16,56.62 636.18,57.37 636.20,55.75 636.23,56.78 636.25,54.45 636.27,55.67 636.29,53.82 636.31,54.48 636.33,52.88 636.36,54.86 636.38,52.13 636.40,52.91 636.42,50.95 636.44,52.22 636.47,50.02 636.49,50.94 636.51,49.18 636.53,50.02 636.55,48.04 636.57,49.61 636.60,47.61 636.62,48.50 636.64,46.19 636.66,47.82 636.68,45.75 636.70,46.63 636.73,44.38 636.75,46.20 636.77,43.81 636.79,45.29 636.81,42.32 636.83,44.47 636.86,41.71 636.88,43.24 636.90,41.14 636.94,43.06 636.97,42.06 637.01,44.66 637.05,42.35 637.08,46.16 637.12,42.54 637.16,46.12 637.19,44.10 637.23,47.52 637.27,45.04 637.31,48.75 637.34,45.62 637.38,49.54 637.42,47.30 637.45,50.23 637.49,47.44 637.53,51.19 637.56,48.44 637.60,52.00 637.73,49.92 637.85,53.97 637.98,49.95 638.11,54.77 638.24,49.31 638.36,56.31 638.49,51.55 638.62,56.65 638.75,52.01 638.87,58.39 639.00,53.58 639.55,58.24 640.10,51.51 640.18,59.00 640.26,52.77 640.35,61.37 640.43,53.81 640.51,62.34 640.59,56.07 640.67,61.46 640.75,55.15 640.84,62.69 640.92,56.85 641.00,64.94 641.07,58.86 641.15,63.97 641.22,58.62 641.29,65.68 641.36,59.16 641.44,67.91 641.51,61.70 641.58,67.83 641.65,61.43 641.73,67.66 641.80,63.39 641.89,68.66 641.98,64.81 642.08,69.64 642.17,65.79 642.26,71.50 642.35,60.90 642.45,72.95 642.54,65.92 642.63,74.29 642.72,66.18 642.82,75.46 642.91,69.36 643.00,74.89 643.10,69.41 643.20,76.17 643.30,69.11 643.40,76.65 643.50,70.19 643.60,78.97 643.70,71.15 643.80,79.13 643.90,72.79 644.00,79.49 644.10,74.12 644.20,80.17 644.30,74.39 644.42,82.14 644.53,74.52 644.65,83.72 644.76,76.25 644.88,82.35 644.99,78.53 645.11,83.71 645.22,79.28 645.34,86.07 645.45,78.17 645.57,89.91 645.68,80.68 645.80,86.62 645.94,81.27 646.07,87.49 646.21,81.24 646.35,88.98 646.48,83.44 646.62,90.74 646.75,84.82 646.89,90.97 647.03,85.05 647.16,93.25 647.30,86.24 647.45,92.27 647.61,85.91 647.76,95.27 647.92,86.82 648.07,94.91 648.23,88.25 648.38,97.50 648.54,88.90 648.69,98.45 648.85,88.19 649.00,97.60 649.25,91.73 649.50,97.69 649.75,90.08 650.00,100.03 650.25,89.92 650.50,101.68 650.75,90.38 651.00,102.20 651.36,91.47 651.71,101.63 652.07,91.79 652.43,101.87 652.79,85.94 653.14,103.25 653.50,94.85 653.92,103.78 654.33,94.34 654.75,108.30 655.17,92.01 655.58,108.03 656.00,92.89 656.50,110.26 657.00,95.08 657.50,116.72 658.00,93.78 658.50,112.55 659.00,94.31 659.50,107.08 659.88,94.00 660.25,109.67 660.62,93.06 661.00,109.19" stroke="#0000ff" stroke-width="2.0" fill="none" stroke-linejoin="round" stroke-linecap="round"/>
<polyline points="59.40,333.50 59.74,332.66 60.08,333.16 60.41,331.57 60.75,331.74 61.09,330.76 61.42,331.22 61.76,329.60 62.10,329.94 62.73,329.01 63.35,329.38 63.98,328.51 64.60,329.16 65.22,327.66 65.85,328.03 66.47,327.27 67.10,327.60 67.71,326.88 68.32,327.73 68.93,326.47 69.54,327.56 70.15,326.39 70.76,327.45 71.37,326.24 71.98,326.82 72.59,325.88 73.20,326.69 73.77,325.49 74.34,327.15 74.91,327.13 75.49,328.05 76.06,327.03 76.63,328.32 77.20,328.11 77.71,329.63 78.22,328.52 78.74,330.01 79.25,329.71 79.76,330.93 80.28,330.39 80.79,331.47 81.30,331.15 81.73,331.46 82.16,329.88 82.59,330.36 83.01,329.25 83.44,329.66 83.87,328.36 84.30,328.79 84.87,327.92 85.43,328.39 86.00,327.59 86.57,328.26 87.13,327.15 87.70,327.58 88.27,326.70 88.83,327.23 89.40,325.98 90.00,326.59 90.60,325.88 91.20,326.52 91.80,326.07 92.40,326.43 93.00,325.69 93.60,326.39 94.20,325.69 94.80,326.19 95.40,325.25 96.01,326.51 96.62,324.99 97.23,326.18 97.84,325.30 98.45,326.44 99.06,325.01 99.67,325.37 100.28,324.68 100.89,325.08 101.50,324.40 101.83,324.57 102.17,323.07 102.50,323.83 102.83,322.52 103.17,322.57 103.50,320.64 103.83,321.93 104.17,320.68 104.50,320.74 104.77,318.97 105.04,319.45 105.31,317.80 105.58,318.13 105.85,317.12 106.12,317.03 106.39,315.58 106.66,315.69 106.93,314.20 107.20,314.92 107.68,313.11 108.16,313.61 108.64,312.17 109.12,312.50 109.60,311.42 109.78,312.73 109.96,312.76 110.15,313.70 110.33,313.41 110.51,314.88 110.69,315.08 110.87,316.44 111.05,316.25 111.24,317.81 111.42,317.00 111.60,318.76 111.72,318.39 111.84,319.80 111.96,319.37 112.08,321.35 112.20,320.57 112.32,322.25 112.44,322.30 112.56,323.56 112.68,322.36 112.80,324.47 112.92,324.52 113.04,325.95 113.16,325.88 113.28,327.47 113.40,327.15 113.52,328.10 113.64,328.09 113.76,329.82 113.88,329.30 114.00,330.75 114.34,330.59 114.67,331.89 115.01,331.20 115.35,332.87 115.69,332.55 116.03,333.68 116.36,333.74 116.70,335.14 117.20,334.69 117.70,336.15 118.20,335.14 118.70,336.38 119.20,336.04 119.70,336.70 119.91,336.73 120.13,338.16 120.34,337.96 120.56,339.24 120.77,339.06 120.99,340.57 121.20,340.04 121.41,341.39 121.63,341.45 121.84,343.00 122.06,342.38 122.27,343.83 122.49,343.26 122.70,344.88 122.92,345.07 123.13,346.56 123.35,345.76 123.57,347.63 123.78,346.87 124.00,348.88 124.22,348.57 124.43,349.60 124.65,349.49 124.87,350.93 125.08,350.85 125.30,351.85 125.65,351.67 126.00,353.03 126.35,352.70 126.70,353.99 127.05,354.08 127.40,355.09 127.69,353.78 127.97,354.30 128.26,352.62 128.54,352.59 128.83,351.27 129.11,351.98 129.40,350.12 129.54,350.20 129.68,349.07 129.82,348.97 129.96,347.89 130.11,347.79 130.25,346.72 130.39,346.97 130.53,345.29 130.67,346.43 130.81,344.39 130.95,344.32 131.09,343.02 131.24,343.55 131.38,341.74 131.52,341.84 131.66,340.90 131.80,340.66 131.86,339.61 131.92,340.02 131.98,338.48 132.03,338.13 132.09,336.95 132.15,337.27 132.21,335.38 132.27,335.63 132.32,334.65 132.38,334.38 132.44,333.32 132.50,333.74 132.59,332.18 132.69,332.45 132.78,330.42 132.88,330.69 132.97,329.29 133.07,329.68 133.16,328.37 133.26,328.37 133.35,327.33 133.45,327.17 133.55,325.85 133.64,325.83 133.74,324.55 133.83,324.81 133.93,323.23 134.02,323.56 134.12,321.99 134.21,322.54 134.31,320.77 134.40,321.38 134.53,319.98 134.67,320.19 134.81,318.75 134.94,318.70 135.07,317.59 135.21,317.43 135.34,316.28 135.48,316.10 135.62,314.43 135.75,314.86 135.88,313.85 136.02,314.26 136.16,312.70 136.29,312.91 136.43,311.52 136.56,311.29 136.69,310.30 136.83,309.96 136.97,308.66 137.10,309.22 137.45,307.91 137.80,308.23 138.15,306.52 138.50,307.16 138.70,306.73 138.90,308.99 139.10,308.31 139.30,309.35 139.50,309.07 139.70,310.71 139.90,310.16 140.10,311.78 140.30,311.45 140.50,314.08 140.62,312.60 140.74,314.28 140.85,314.14 140.97,315.30 141.09,315.11 141.21,316.45 141.32,316.47 141.44,317.66 141.56,317.87 141.68,319.23 141.79,318.46 141.91,320.32 142.03,319.70 142.15,321.68 142.26,321.02 142.38,322.93 142.50,322.54 142.77,323.95 143.04,323.33 143.31,325.24 143.58,324.82 143.85,326.34 144.12,325.78 144.39,327.31 144.66,327.29 144.93,328.46 145.20,328.64 145.80,329.32 146.40,328.55 147.00,329.77 147.60,328.82 148.20,329.98 148.63,329.11 149.06,329.32 149.49,328.22 149.91,327.99 150.34,326.79 150.77,327.28 151.20,325.72 151.60,327.35 152.00,326.83 152.40,328.12 152.80,328.14 153.20,328.94 153.54,329.03 153.89,330.36 154.23,330.00 154.58,331.35 154.92,330.90 155.27,332.43 155.61,332.58 155.96,333.58 156.30,333.47 156.97,334.58 157.63,333.73 158.30,334.53 158.97,334.39 159.63,335.17 160.30,334.41 160.89,336.34 161.47,335.07 162.06,335.87 162.64,335.55 163.23,336.46 163.81,335.59 164.40,337.28 164.83,336.51 165.26,337.97 165.69,337.40 166.11,338.52 166.54,338.28 166.97,339.22 167.40,339.24 167.80,339.37 168.20,338.13 168.60,338.39 169.00,337.03 169.40,337.23 169.60,335.84 169.80,336.24 170.00,334.58 170.20,335.10 170.40,333.51 170.60,334.21 170.80,332.56 171.00,332.72 171.20,330.95 171.40,331.74 171.56,329.53 171.72,329.80 171.88,328.34 172.05,328.91 172.21,327.60 172.37,327.29 172.53,326.42 172.69,326.45 172.85,324.49 173.02,325.26 173.18,323.60 173.34,323.90 173.50,322.25 173.70,322.93 173.90,320.84 174.10,321.10 174.30,320.07 174.50,320.36 174.70,318.52 174.90,319.24 175.10,317.14 175.30,317.86 175.50,316.26 176.10,317.27 176.70,316.09 177.30,316.85 177.90,316.12 178.50,317.07 179.10,315.55 179.70,317.04 180.30,315.77 180.90,316.60 181.50,315.30 182.12,316.28 182.74,315.17 183.36,315.86 183.98,315.13 184.60,316.38 184.93,315.67 185.27,317.37 185.60,317.06 185.93,317.97 186.27,317.72 186.60,318.83 186.94,318.51 187.29,320.59 187.63,319.98 187.97,321.80 188.31,321.10 188.66,322.67 189.00,322.31 189.32,323.54 189.64,323.61 189.96,325.39 190.28,324.83 190.60,326.06 191.10,325.71 191.60,327.33 192.10,326.30 192.60,328.13 193.10,327.07 193.82,328.55 194.54,327.53 195.26,328.39 195.98,327.54 196.70,328.13 197.30,327.32 197.90,328.13 198.50,327.05 199.10,328.00 199.70,327.27" stroke="#000000" stroke-width="2.4" fill="none" stroke-linejoin="round" stroke-linecap="round"/>
<polyline points="59.40,336.50 61.10,329.40 64.10,326.40 68.10,324.40 71.20,321.90 73.60,323.40 76.20,328.40 79.30,334.50 81.70,336.50 84.30,332.50 87.30,327.40 91.40,324.80 95.40,323.40 99.50,322.70 103.10,321.30 104.50,310.20 106.50,300.10 108.60,295.70 110.20,295.10 111.60,302.10 113.20,320.30 114.60,332.50 116.70,339.50 119.30,342.20 121.30,350.60 122.70,362.80 124.70,374.90 126.80,380.00 128.80,376.90 130.20,365.00 131.80,344.60 133.00,318.70 135.10,302.60 137.10,292.40 138.50,289.40 140.10,298.50 142.10,314.70 144.60,326.80 147.20,332.90 149.20,331.90 151.20,327.80 153.20,329.50 155.30,337.00 158.30,345.20 161.30,351.30 163.40,359.40 165.40,371.50 167.40,379.60 168.80,380.60 170.00,373.50 171.00,355.30 172.00,339.10 172.90,324.80 174.50,290.40 176.10,270.20 178.50,266.20 181.50,265.80 183.00,264.20 184.60,254.00 186.20,251.00 187.60,260.10 189.00,276.30 190.60,294.50 192.30,310.60 193.70,322.80 194.70,331.00 196.70,328.00 198.70,326.80 201.20,327.20" stroke="#ff00ff" stroke-width="2.2" fill="none" stroke-linejoin="round" stroke-linecap="round"/>
<polyline points="294.00,328.10 294.62,327.99 295.25,328.23 295.87,327.60 296.49,328.30 297.12,327.68 297.74,328.49 298.36,327.86 298.98,328.52 299.61,327.78 300.23,328.77 300.85,327.93 301.48,328.44 302.10,328.00 302.72,328.40 303.35,327.95 303.97,328.35 304.59,327.61 305.22,328.66 305.84,327.87 306.46,328.38 307.08,327.94 307.71,328.37 308.33,327.97 308.95,328.35 309.58,327.75 310.20,328.58 310.88,327.99 311.57,328.64 312.25,328.12 312.93,328.62 313.62,328.14 314.30,328.82 314.97,328.50 315.63,329.12 316.30,328.81 316.97,329.64 317.63,329.11 318.30,329.91 318.97,328.76 319.63,329.78 320.30,329.09 320.97,329.80 321.63,328.79 322.30,329.66 322.89,328.55 323.47,329.05 324.06,327.73 324.64,328.78 325.23,327.61 325.81,328.02 326.40,327.25 327.02,327.62 327.65,327.28 328.27,327.83 328.89,326.90 329.52,327.91 330.14,327.06 330.76,327.47 331.38,327.00 332.01,327.74 332.63,327.09 333.25,327.63 333.88,326.69 334.50,327.48 335.12,326.90 335.75,327.30 336.37,326.45 336.99,327.29 337.62,326.60 338.24,327.12 338.86,326.27 339.48,327.23 340.11,326.54 340.73,327.07 341.35,326.57 341.98,327.22 342.60,326.52 343.22,327.05 343.83,326.90 344.45,327.34 345.06,326.37 345.68,327.62 346.29,327.07 346.91,327.74 347.52,327.16 348.14,327.77 348.75,327.25 349.37,327.51 349.98,326.98 350.60,327.71 351.22,327.28 351.85,327.83 352.47,326.91 353.09,327.70 353.72,327.31 354.34,328.06 354.96,327.13 355.58,328.01 356.21,327.29 356.83,327.79 357.45,326.92 358.08,327.85 358.70,326.95 358.93,327.04 359.17,325.88 359.40,326.11 359.63,324.69 359.87,325.31 360.10,323.66 360.33,324.03 360.57,322.85 360.80,322.81 361.02,321.56 361.24,321.84 361.47,320.31 361.69,320.69 361.91,318.96 362.13,319.33 362.36,317.75 362.58,318.12 362.80,317.25 363.60,318.00 364.40,317.21 365.20,317.84 365.52,317.41 365.84,319.18 366.16,318.61 366.48,320.05 366.80,320.04 366.97,321.40 367.14,321.15 367.31,322.47 367.48,322.80 367.65,323.64 367.82,323.71 367.98,325.03 368.15,325.02 368.32,326.60 368.49,326.12 368.66,327.71 368.83,327.70 369.00,328.80 369.34,328.89 369.69,329.98 370.03,329.78 370.38,330.91 370.72,331.14 371.07,332.07 371.41,332.25 371.76,333.56 372.10,333.15 372.68,334.33 373.25,334.06 373.82,335.21 374.40,334.97 374.97,336.13 375.53,335.96 376.10,337.03 376.67,336.46 377.23,337.56 377.80,337.50 378.06,338.47 378.32,338.46 378.59,339.52 378.85,339.89 379.11,340.74 379.38,340.73 379.64,342.39 379.90,342.08 380.13,343.34 380.37,343.39 380.60,344.60 380.83,344.62 381.07,345.49 381.30,345.38 381.53,347.05 381.77,346.64 382.00,348.02 382.23,348.08 382.47,349.19 382.70,348.94 383.10,350.43 383.50,349.87 383.90,351.10 384.30,351.10 384.70,352.26 385.00,351.25 385.30,351.11 385.60,350.05 385.90,349.82 386.20,348.74 386.50,348.68 386.80,347.86 387.03,347.56 387.27,346.70 387.50,346.58 387.73,345.60 387.97,345.30 388.20,344.19 388.43,344.12 388.67,342.94 388.90,343.11 389.13,341.96 389.37,341.82 389.60,340.98 389.83,340.62 390.07,339.39 390.30,339.33 390.53,338.16 390.77,338.09 391.00,336.78 391.23,337.16 391.47,335.62 391.70,335.86 391.79,334.69 391.88,334.98 391.97,333.52 392.06,333.63 392.14,332.20 392.23,332.28 392.32,331.13 392.41,330.94 392.50,329.60 392.59,329.55 392.68,328.60 392.77,328.40 392.86,327.45 392.94,327.50 393.03,326.22 393.12,326.22 393.21,324.63 393.30,324.92 393.55,323.47 393.80,323.45 394.05,322.22 394.30,322.45 394.55,321.39 394.80,321.11 395.05,320.16 395.30,320.30 395.55,318.90 395.80,318.84 396.05,317.85 396.30,317.49 396.65,316.53 397.00,316.45 397.35,315.33 397.70,315.65 398.05,314.53 398.40,314.63 398.75,313.15 399.10,313.17 399.45,312.03 399.80,312.38 400.32,312.10 400.84,312.80 401.36,312.48 401.88,313.41 402.40,312.99 402.67,314.32 402.95,313.92 403.22,315.50 403.49,315.16 403.76,316.68 404.04,316.15 404.31,317.78 404.58,317.37 404.85,318.47 405.13,318.39 405.40,319.59 405.68,319.65 405.96,320.70 406.25,320.49 406.53,321.80 406.81,321.99 407.09,323.19 407.37,322.82 407.65,324.07 407.94,324.08 408.22,325.27 408.50,325.39 409.12,326.32 409.75,325.84 410.38,326.36 411.00,326.36 411.62,326.99 412.25,326.84 412.88,327.41 413.50,327.07 414.11,327.90 414.72,327.36 415.33,327.96 415.94,327.72 416.55,328.96 417.16,327.87 417.77,328.31 418.38,327.97 418.99,328.63 419.60,328.29 420.20,328.78 420.80,327.99 421.40,328.66 422.00,328.01 422.60,329.55 423.20,328.19 423.80,328.65 424.40,328.01 425.00,328.95 425.60,328.24 426.22,328.97 426.85,328.33 427.47,329.02 428.09,327.93 428.72,328.86 429.34,328.19 429.96,328.66 430.58,328.35 431.21,328.66 431.83,327.97 432.45,328.60 433.08,328.38 433.70,329.04" stroke="#000000" stroke-width="2.3" fill="none" stroke-linejoin="round" stroke-linecap="round"/>
<polyline points="294.00,327.50 310.20,327.50 312.20,330.50 314.30,335.60 317.30,339.00 320.30,339.60 322.30,337.60 324.40,330.50 326.40,326.50 330.40,324.90 342.60,324.90 348.60,324.90 352.70,325.50 357.70,326.50 359.70,323.50 360.80,314.40 362.40,306.30 364.40,305.30 365.80,307.30 367.20,316.40 368.80,326.50 370.10,334.60 372.30,341.10 374.40,344.50 377.10,345.90 378.50,350.70 379.90,360.40 381.30,370.10 382.70,375.60 384.00,378.10 386.50,377.70 387.90,371.50 388.90,366.00 390.30,354.90 391.70,343.80 393.30,332.60 395.30,316.40 397.30,304.30 399.80,297.20 401.80,298.20 404.40,304.30 406.40,314.40 408.50,322.50 411.50,325.50 417.60,326.10 423.60,326.90 429.70,328.50 438.80,328.50" stroke="#ff00ff" stroke-width="2.2" fill="none" stroke-linejoin="round" stroke-linecap="round"/>
<polyline points="520.00,328.40 520.52,328.27 521.03,328.71 521.55,328.21 522.07,329.00 522.59,327.70 523.10,328.98 523.62,327.34 524.14,328.95 524.66,327.99 525.17,329.11 525.69,327.94 526.21,329.06 526.73,328.11 527.24,329.64 527.76,328.48 528.28,329.12 528.80,328.61 529.31,329.74 529.83,328.19 530.35,329.22 530.87,328.81 531.38,329.40 531.90,328.42 532.41,329.16 532.93,328.59 533.44,329.31 533.96,328.14 534.47,329.17 534.98,328.22 535.50,329.21 536.01,328.40 536.52,329.05 537.04,328.68 537.55,329.66 538.07,328.15 538.58,329.05 539.09,328.65 539.61,329.44 540.12,328.62 540.63,329.30 541.15,328.64 541.66,329.62 542.18,327.84 542.69,329.96 543.20,328.08 543.72,329.63 544.23,328.51 544.74,329.01 545.26,328.46 545.77,329.38 546.29,328.50 546.80,328.90 547.32,328.40 547.83,328.86 548.35,327.84 548.87,329.13 549.39,327.80 549.90,329.08 550.42,328.23 550.94,329.40 551.46,328.26 551.97,329.08 552.49,328.39 553.01,329.01 553.53,327.78 554.04,328.75 554.56,327.71 555.08,328.98 555.60,327.64 556.11,329.20 556.63,327.85 557.15,328.62 557.67,328.14 558.18,328.66 558.70,327.62 559.23,329.24 559.76,327.82 560.29,328.84 560.81,328.17 561.34,329.28 561.87,328.04 562.40,329.69 562.93,327.51 563.46,329.40 563.99,327.84 564.51,329.96 565.04,327.52 565.57,330.42 566.10,326.56 566.60,330.35 567.10,327.80 567.60,329.61 568.10,327.27 568.60,328.56 569.10,326.05 569.63,329.21 570.16,325.97 570.69,327.88 571.21,327.07 571.74,328.51 572.27,324.97 572.80,328.31 573.33,326.76 573.86,328.35 574.39,326.48 574.91,328.33 575.44,326.62 575.97,328.89 576.50,327.29 577.00,329.74 577.50,327.38 578.00,329.50 578.50,326.77 579.00,330.16 579.50,327.94 580.00,329.32 580.50,327.33 581.00,330.20 581.50,328.55 582.00,330.34 582.50,327.86 582.99,329.78 583.48,328.02 583.97,330.76 584.46,328.33 584.94,329.77 585.43,328.09 585.92,328.80 586.41,326.67 586.90,328.29 587.40,325.44 587.90,328.55 588.40,327.63 588.90,328.70 589.40,328.00 589.90,329.79 590.40,328.37 590.90,329.39 591.40,327.75 591.90,330.74 592.40,328.88 592.90,330.05 593.40,328.82 593.90,330.33 594.40,328.78 594.90,331.29 595.40,328.26 595.90,331.19 596.40,329.00 596.90,330.96 597.40,329.23 597.91,330.92 598.43,329.78 598.94,331.45 599.46,329.84 599.97,331.32 600.49,330.05 601.00,332.59 601.51,329.80 602.03,331.57 602.54,329.46 603.06,331.09 603.57,330.32 604.09,331.65 604.60,329.72 605.12,331.61 605.64,330.16 606.17,331.76 606.69,328.53 607.21,331.25 607.73,329.68 608.26,331.13 608.78,329.40 609.30,330.51 609.54,328.48 609.78,329.83 610.02,327.77 610.27,330.70 610.51,325.63 610.75,328.09 610.99,324.74 611.23,326.62 611.48,324.50 611.72,327.78 611.96,324.14 612.20,325.25 612.36,323.21 612.52,324.75 612.68,322.10 612.83,323.74 612.99,321.08 613.15,322.15 613.31,320.34 613.47,320.51 613.62,318.40 613.78,320.52 613.94,316.97 614.10,319.86 614.42,317.02 614.73,320.12 615.05,315.56 615.37,317.01 615.68,314.68 616.00,316.14 616.29,314.33 616.57,316.66 616.86,314.51 617.14,317.73 617.43,316.39 617.71,319.14 618.00,316.80 618.13,320.20 618.25,318.48 618.38,321.14 618.51,318.70 618.63,321.29 618.76,319.70 618.89,322.22 619.01,321.42 619.14,324.41 619.27,322.73 619.39,325.22 619.52,323.82 619.65,326.64 619.77,324.70 619.90,326.21 620.07,324.70 620.25,328.39 620.42,325.48 620.60,329.15 620.77,326.74 620.95,330.52 621.12,328.60 621.30,330.39 621.48,329.83 621.65,331.57 621.83,330.55 622.00,334.39 622.18,330.61 622.35,333.66 622.53,332.57 622.70,335.23 622.91,333.44 623.12,336.33 623.33,333.12 623.53,336.04 623.74,334.46 623.95,337.83 624.16,335.16 624.37,338.57 624.58,337.50 624.78,339.28 624.99,336.85 625.20,340.12 625.33,338.82 625.45,341.73 625.58,339.53 625.71,343.16 625.83,340.07 625.96,343.84 626.09,341.99 626.21,343.78 626.34,343.29 626.47,345.38 626.59,344.31 626.72,346.30 626.85,345.34 626.97,348.37 627.10,346.43 627.30,348.74 627.50,346.14 627.70,349.11 627.90,347.05 628.10,351.31 628.30,349.46 628.50,351.59 628.70,350.09 628.90,351.88 629.10,350.87 629.43,352.03 629.76,349.17 630.09,351.81 630.41,349.40 630.74,350.21 631.07,348.12 631.40,349.54 631.48,348.07 631.57,349.30 631.65,346.14 631.73,348.24 631.81,344.87 631.90,346.55 631.98,344.61 632.06,345.59 632.14,343.78 632.23,344.56 632.31,342.61 632.39,343.53 632.47,341.92 632.56,342.86 632.64,339.62 632.72,342.13 632.80,339.99 632.89,341.33 632.97,339.03 633.05,339.64 633.13,336.41 633.22,339.65 633.30,336.05 633.38,337.46 633.47,335.33 633.55,336.26 633.63,333.80 633.71,336.49 633.80,333.16 633.88,335.10 633.96,332.93 634.04,334.47 634.13,331.88 634.21,332.39 634.29,330.78 634.37,331.83 634.46,329.67 634.54,330.75 634.62,328.41 634.70,330.26 634.79,326.83 634.87,328.79 634.95,326.90 635.03,328.59 635.12,324.88 635.20,326.25 635.35,324.14 635.51,326.01 635.66,323.79 635.81,324.18 635.97,322.94 636.12,323.86 636.27,320.88 636.43,322.19 636.58,320.54 636.73,321.86 636.89,319.94 637.04,321.76 637.19,318.21 637.35,320.53 637.50,316.56 638.00,318.97 638.50,318.27 639.00,320.02 639.50,318.45 640.00,319.64 640.47,318.52 640.93,321.09 641.40,319.72 641.87,320.77 642.33,319.83 642.80,322.59 643.12,321.22 643.44,322.30 643.77,319.47 644.09,323.29 644.41,321.59 644.73,324.45 645.06,323.39 645.38,325.19 645.70,323.94 646.08,327.47 646.46,323.41 646.84,327.88 647.22,325.13 647.60,328.07 647.98,326.82 648.36,328.32 648.74,326.44 649.12,329.77 649.50,328.29 649.98,329.59 650.47,328.73 650.95,330.14 651.43,327.49 651.92,331.50 652.40,329.18 652.94,330.70 653.49,328.89 654.03,331.32 654.57,328.48 655.11,331.20 655.66,328.30 656.20,331.20 656.62,328.13 657.04,329.20 657.47,328.16 657.89,329.49 658.31,327.19 658.73,328.09 659.16,325.71 659.58,328.57 660.00,325.51 660.53,328.99 661.07,326.57 661.60,328.99" stroke="#000000" stroke-width="2.2" fill="none" stroke-linejoin="round" stroke-linecap="round"/>
<polyline points="520.00,333.20 539.30,333.20 541.60,332.10 545.30,331.70 548.30,329.40 554.20,329.00 561.60,329.00 572.10,329.00 575.00,331.70 578.00,332.10 580.20,332.40 582.50,334.30 585.20,333.90 586.90,331.70 589.90,330.50 592.90,332.40 595.90,334.30 605.50,334.50 608.40,332.60 610.70,331.70 612.20,318.30 613.20,310.60 616.00,309.10 618.00,308.30 618.90,316.30 620.80,327.80 623.70,339.30 625.40,350.00 626.60,359.50 628.00,360.80 630.50,360.80 631.60,356.50 632.90,345.00 634.20,331.70 635.60,320.20 637.10,315.40 639.40,315.40 641.90,317.30 644.70,319.20 647.60,323.00 650.50,328.80 653.40,330.70 657.20,330.70 660.00,330.10 661.60,328.80" stroke="#ff00ff" stroke-width="2.2" fill="none" stroke-linejoin="round" stroke-linecap="round"/>
<path d="M58.0 6.9H215.0V191.1H58.0Z" stroke="#000" stroke-width="1.8" fill="none"/>
<path d="M58.00 191.10v4.2M77.62 191.10v4.2M97.25 191.10v4.2M116.88 191.10v4.2M136.50 191.10v4.2M156.12 191.10v4.2M175.75 191.10v4.2M195.38 191.10v4.2M215.00 191.10v4.2M58.00 7.00h-3.8M58.00 30.01h-3.8M58.00 53.02h-3.8M58.00 76.04h-3.8M58.00 99.05h-3.8M58.00 122.06h-3.8M58.00 145.07h-3.8M58.00 168.09h-3.8M58.00 191.10h-3.8" stroke="#000" stroke-width="1.6" fill="none"/>
<path d="M291.9 6.8H448.6V191.1H291.9Z" stroke="#000" stroke-width="1.8" fill="none"/>
<path d="M291.90 191.10v4.2M309.31 191.10v4.2M326.72 191.10v4.2M344.13 191.10v4.2M361.54 191.10v4.2M378.96 191.10v4.2M396.37 191.10v4.2M413.78 191.10v4.2M431.19 191.10v4.2M448.60 191.10v4.2M291.90 7.00h-3.8M291.90 30.01h-3.8M291.90 53.02h-3.8M291.90 76.04h-3.8M291.90 99.05h-3.8M291.90 122.06h-3.8M291.90 145.07h-3.8M291.90 168.09h-3.8M291.90 191.10h-3.8" stroke="#000" stroke-width="1.6" fill="none"/>
<path d="M519.3 6.9H675.9V191.0H519.3Z" stroke="#000" stroke-width="1.8" fill="none"/>
<path d="M519.30 191.00v4.2M538.88 191.00v4.2M558.45 191.00v4.2M578.02 191.00v4.2M597.60 191.00v4.2M617.17 191.00v4.2M636.75 191.00v4.2M656.33 191.00v4.2M675.90 191.00v4.2M519.30 7.00h-3.8M519.30 30.01h-3.8M519.30 53.02h-3.8M519.30 76.04h-3.8M519.30 99.05h-3.8M519.30 122.06h-3.8M519.30 145.07h-3.8M519.30 168.09h-3.8M519.30 191.10h-3.8" stroke="#000" stroke-width="1.6" fill="none"/>
<path d="M58.3 249.5H215.1V435.7H58.3Z" stroke="#000" stroke-width="1.8" fill="none"/>
<path d="M58.30 435.70v4.2M77.90 435.70v4.2M97.50 435.70v4.2M117.10 435.70v4.2M136.70 435.70v4.2M156.30 435.70v4.2M175.90 435.70v4.2M195.50 435.70v4.2M215.10 435.70v4.2M58.30 249.50h-3.8M58.30 275.86h-3.8M58.30 302.21h-3.8M58.30 328.57h-3.8M58.30 354.93h-3.8M58.30 381.29h-3.8M58.30 407.64h-3.8M58.30 434.00h-3.8" stroke="#000" stroke-width="1.6" fill="none"/>
<path d="M294.0 434.0H450.3" stroke="#a8a8a8" stroke-width="1.3" fill="none"/>
<path d="M294.0 434.9V249.3H450.3V434.5" stroke="#000" stroke-width="1.8" fill="none"/>
<path d="M294.00 434.00v4.2M311.37 434.00v4.2M328.73 434.00v4.2M346.10 434.00v4.2M363.47 434.00v4.2M380.83 434.00v4.2M398.20 434.00v4.2M415.57 434.00v4.2M432.93 434.00v4.2M450.30 434.00v4.2" stroke="#999" stroke-width="1.3" fill="none"/>
<path d="M294.00 249.40h-3.8M294.00 275.77h-3.8M294.00 302.14h-3.8M294.00 328.51h-3.8M294.00 354.89h-3.8M294.00 381.26h-3.8M294.00 407.63h-3.8M294.00 434.00h-3.8" stroke="#000" stroke-width="1.6" fill="none"/>
<path d="M519.5 249.5H675.9V434.0H519.5Z" stroke="#000" stroke-width="1.8" fill="none"/>
<path d="M519.50 434.00v4.2M539.05 434.00v4.2M558.60 434.00v4.2M578.15 434.00v4.2M597.70 434.00v4.2M617.25 434.00v4.2M636.80 434.00v4.2M656.35 434.00v4.2M675.90 434.00v4.2M519.50 249.50h-3.8M519.50 275.86h-3.8M519.50 302.21h-3.8M519.50 328.57h-3.8M519.50 354.93h-3.8M519.50 381.29h-3.8M519.50 407.64h-3.8M519.50 434.00h-3.8" stroke="#000" stroke-width="1.6" fill="none"/>
<text transform="translate(58.00,210.00) scale(1,1.06)" text-anchor="middle" font-weight="bold" font-size="16">0</text>
<text transform="translate(77.62,210.00) scale(1,1.06)" text-anchor="middle" font-weight="bold" font-size="16">5</text>
<text transform="translate(97.25,210.00) scale(1,1.06)" text-anchor="middle" font-weight="bold" font-size="16">10</text>
<text transform="translate(116.88,210.00) scale(1,1.06)" text-anchor="middle" font-weight="bold" font-size="16">15</text>
<text transform="translate(136.50,210.00) scale(1,1.06)" text-anchor="middle" font-weight="bold" font-size="16">20</text>
<text transform="translate(156.12,210.00) scale(1,1.06)" text-anchor="middle" font-weight="bold" font-size="16">25</text>
<text transform="translate(175.75,210.00) scale(1,1.06)" text-anchor="middle" font-weight="bold" font-size="16">30</text>
<text transform="translate(195.38,210.00) scale(1,1.06)" text-anchor="middle" font-weight="bold" font-size="16">35</text>
<text transform="translate(215.00,210.00) scale(1,1.06)" text-anchor="middle" font-weight="bold" font-size="16">40</text>
<text transform="translate(55.80,12.21) scale(1,1.04)" text-anchor="end" font-weight="bold" font-size="16">0.04</text>
<text transform="translate(55.80,34.01) scale(1,1.04)" text-anchor="end" font-weight="bold" font-size="16">0.03</text>
<text transform="translate(55.80,56.91) scale(1,1.04)" text-anchor="end" font-weight="bold" font-size="16">0.02</text>
<text transform="translate(55.80,81.31) scale(1,1.04)" text-anchor="end" font-weight="bold" font-size="16">0.01</text>
<text transform="translate(55.80,103.11) scale(1,1.04)" text-anchor="end" font-weight="bold" font-size="16">0.00</text>
<text transform="translate(55.80,127.61) scale(1,1.04)" text-anchor="end" font-weight="bold" font-size="16">-0.01</text>
<text transform="translate(55.80,149.91) scale(1,1.04)" text-anchor="end" font-weight="bold" font-size="16">-0.02</text>
<text transform="translate(55.80,172.31) scale(1,1.04)" text-anchor="end" font-weight="bold" font-size="16">-0.03</text>
<text transform="translate(55.80,194.11) scale(1,1.04)" text-anchor="end" font-weight="bold" font-size="16">-0.04</text>
<text transform="translate(291.90,210.00) scale(1,1.06)" text-anchor="middle" font-weight="bold" font-size="16">0</text>
<text transform="translate(309.31,210.00) scale(1,1.06)" text-anchor="middle" font-weight="bold" font-size="16">3</text>
<text transform="translate(326.72,210.00) scale(1,1.06)" text-anchor="middle" font-weight="bold" font-size="16">6</text>
<text transform="translate(344.13,210.00) scale(1,1.06)" text-anchor="middle" font-weight="bold" font-size="16">9</text>
<text transform="translate(361.54,210.00) scale(1,1.06)" text-anchor="middle" font-weight="bold" font-size="16">12</text>
<text transform="translate(378.96,210.00) scale(1,1.06)" text-anchor="middle" font-weight="bold" font-size="16">15</text>
<text transform="translate(396.37,210.00) scale(1,1.06)" text-anchor="middle" font-weight="bold" font-size="16">18</text>
<text transform="translate(413.78,210.00) scale(1,1.06)" text-anchor="middle" font-weight="bold" font-size="16">21</text>
<text transform="translate(431.19,210.00) scale(1,1.06)" text-anchor="middle" font-weight="bold" font-size="16">24</text>
<text transform="translate(448.60,210.00) scale(1,1.06)" text-anchor="middle" font-weight="bold" font-size="16">27</text>
<text transform="translate(290.40,13.21) scale(1,1.04)" text-anchor="end" font-weight="bold" font-size="16">0.04</text>
<text transform="translate(290.40,35.01) scale(1,1.04)" text-anchor="end" font-weight="bold" font-size="16">0.03</text>
<text transform="translate(290.40,57.91) scale(1,1.04)" text-anchor="end" font-weight="bold" font-size="16">0.02</text>
<text transform="translate(290.40,82.31) scale(1,1.04)" text-anchor="end" font-weight="bold" font-size="16">0.01</text>
<text transform="translate(290.40,104.11) scale(1,1.04)" text-anchor="end" font-weight="bold" font-size="16">0.00</text>
<text transform="translate(290.40,128.61) scale(1,1.04)" text-anchor="end" font-weight="bold" font-size="16">-0.01</text>
<text transform="translate(290.40,150.91) scale(1,1.04)" text-anchor="end" font-weight="bold" font-size="16">-0.02</text>
<text transform="translate(290.40,173.31) scale(1,1.04)" text-anchor="end" font-weight="bold" font-size="16">-0.03</text>
<text transform="translate(290.40,195.11) scale(1,1.04)" text-anchor="end" font-weight="bold" font-size="16">-0.04</text>
<text transform="translate(519.30,210.00) scale(1,1.06)" text-anchor="middle" font-weight="bold" font-size="16">0</text>
<text transform="translate(538.88,210.00) scale(1,1.06)" text-anchor="middle" font-weight="bold" font-size="16">5</text>
<text transform="translate(558.45,210.00) scale(1,1.06)" text-anchor="middle" font-weight="bold" font-size="16">10</text>
<text transform="translate(578.02,210.00) scale(1,1.06)" text-anchor="middle" font-weight="bold" font-size="16">15</text>
<text transform="translate(597.60,210.00) scale(1,1.06)" text-anchor="middle" font-weight="bold" font-size="16">20</text>
<text transform="translate(617.17,210.00) scale(1,1.06)" text-anchor="middle" font-weight="bold" font-size="16">25</text>
<text transform="translate(636.75,210.00) scale(1,1.06)" text-anchor="middle" font-weight="bold" font-size="16">30</text>
<text transform="translate(656.33,210.00) scale(1,1.06)" text-anchor="middle" font-weight="bold" font-size="16">35</text>
<text transform="translate(675.90,210.00) scale(1,1.06)" text-anchor="middle" font-weight="bold" font-size="16">40</text>
<text transform="translate(517.00,13.91) scale(1,1.04)" text-anchor="end" font-weight="bold" font-size="16">0.04</text>
<text transform="translate(517.00,35.71) scale(1,1.04)" text-anchor="end" font-weight="bold" font-size="16">0.03</text>
<text transform="translate(517.00,58.61) scale(1,1.04)" text-anchor="end" font-weight="bold" font-size="16">0.02</text>
<text transform="translate(517.00,83.01) scale(1,1.04)" text-anchor="end" font-weight="bold" font-size="16">0.01</text>
<text transform="translate(517.00,104.81) scale(1,1.04)" text-anchor="end" font-weight="bold" font-size="16">0.00</text>
<text transform="translate(517.00,129.31) scale(1,1.04)" text-anchor="end" font-weight="bold" font-size="16">-0.01</text>
<text transform="translate(517.00,151.61) scale(1,1.04)" text-anchor="end" font-weight="bold" font-size="16">-0.02</text>
<text transform="translate(517.00,174.01) scale(1,1.04)" text-anchor="end" font-weight="bold" font-size="16">-0.03</text>
<text transform="translate(517.00,195.81) scale(1,1.04)" text-anchor="end" font-weight="bold" font-size="16">-0.04</text>
<text transform="translate(58.30,454.00) scale(1,1.06)" text-anchor="middle" font-weight="bold" font-size="16">0</text>
<text transform="translate(77.90,454.00) scale(1,1.06)" text-anchor="middle" font-weight="bold" font-size="16">5</text>
<text transform="translate(97.50,454.00) scale(1,1.06)" text-anchor="middle" font-weight="bold" font-size="16">10</text>
<text transform="translate(117.10,454.00) scale(1,1.06)" text-anchor="middle" font-weight="bold" font-size="16">15</text>
<text transform="translate(136.70,454.00) scale(1,1.06)" text-anchor="middle" font-weight="bold" font-size="16">20</text>
<text transform="translate(156.30,454.00) scale(1,1.06)" text-anchor="middle" font-weight="bold" font-size="16">25</text>
<text transform="translate(175.90,454.00) scale(1,1.06)" text-anchor="middle" font-weight="bold" font-size="16">30</text>
<text transform="translate(195.50,454.00) scale(1,1.06)" text-anchor="middle" font-weight="bold" font-size="16">35</text>
<text transform="translate(215.10,454.00) scale(1,1.06)" text-anchor="middle" font-weight="bold" font-size="16">40</text>
<text transform="translate(54.60,255.21) scale(1,1.04)" text-anchor="end" font-weight="bold" font-size="16">0.3</text>
<text transform="translate(54.60,280.51) scale(1,1.04)" text-anchor="end" font-weight="bold" font-size="16">0.2</text>
<text transform="translate(54.60,306.11) scale(1,1.04)" text-anchor="end" font-weight="bold" font-size="16">0.1</text>
<text transform="translate(54.60,333.41) scale(1,1.04)" text-anchor="end" font-weight="bold" font-size="16">0.0</text>
<text transform="translate(54.60,360.21) scale(1,1.04)" text-anchor="end" font-weight="bold" font-size="16">-0.1</text>
<text transform="translate(54.60,386.41) scale(1,1.04)" text-anchor="end" font-weight="bold" font-size="16">-0.2</text>
<text transform="translate(54.60,413.11) scale(1,1.04)" text-anchor="end" font-weight="bold" font-size="16">-0.3</text>
<text transform="translate(54.60,438.91) scale(1,1.04)" text-anchor="end" font-weight="bold" font-size="16">-0.4</text>
<text transform="translate(294.00,454.00) scale(1,1.06)" text-anchor="middle" font-weight="bold" font-size="16">0</text>
<text transform="translate(311.37,454.00) scale(1,1.06)" text-anchor="middle" font-weight="bold" font-size="16">3</text>
<text transform="translate(328.73,454.00) scale(1,1.06)" text-anchor="middle" font-weight="bold" font-size="16">6</text>
<text transform="translate(346.10,454.00) scale(1,1.06)" text-anchor="middle" font-weight="bold" font-size="16">9</text>
<text transform="translate(363.47,454.00) scale(1,1.06)" text-anchor="middle" font-weight="bold" font-size="16">12</text>
<text transform="translate(380.83,454.00) scale(1,1.06)" text-anchor="middle" font-weight="bold" font-size="16">15</text>
<text transform="translate(398.20,454.00) scale(1,1.06)" text-anchor="middle" font-weight="bold" font-size="16">18</text>
<text transform="translate(415.57,454.00) scale(1,1.06)" text-anchor="middle" font-weight="bold" font-size="16">21</text>
<text transform="translate(432.93,454.00) scale(1,1.06)" text-anchor="middle" font-weight="bold" font-size="16">24</text>
<text transform="translate(450.30,454.00) scale(1,1.06)" text-anchor="middle" font-weight="bold" font-size="16">27</text>
<text transform="translate(288.30,255.21) scale(1,1.04)" text-anchor="end" font-weight="bold" font-size="16">0.3</text>
<text transform="translate(288.30,280.51) scale(1,1.04)" text-anchor="end" font-weight="bold" font-size="16">0.2</text>
<text transform="translate(288.30,306.11) scale(1,1.04)" text-anchor="end" font-weight="bold" font-size="16">0.1</text>
<text transform="translate(288.30,333.41) scale(1,1.04)" text-anchor="end" font-weight="bold" font-size="16">0.0</text>
<text transform="translate(288.30,360.21) scale(1,1.04)" text-anchor="end" font-weight="bold" font-size="16">-0.1</text>
<text transform="translate(288.30,386.41) scale(1,1.04)" text-anchor="end" font-weight="bold" font-size="16">-0.2</text>
<text transform="translate(288.30,413.11) scale(1,1.04)" text-anchor="end" font-weight="bold" font-size="16">-0.3</text>
<text transform="translate(288.30,438.91) scale(1,1.04)" text-anchor="end" font-weight="bold" font-size="16">-0.4</text>
<text transform="translate(519.50,454.00) scale(1,1.06)" text-anchor="middle" font-weight="bold" font-size="16">0</text>
<text transform="translate(539.05,454.00) scale(1,1.06)" text-anchor="middle" font-weight="bold" font-size="16">5</text>
<text transform="translate(558.60,454.00) scale(1,1.06)" text-anchor="middle" font-weight="bold" font-size="16">10</text>
<text transform="translate(578.15,454.00) scale(1,1.06)" text-anchor="middle" font-weight="bold" font-size="16">15</text>
<text transform="translate(597.70,454.00) scale(1,1.06)" text-anchor="middle" font-weight="bold" font-size="16">20</text>
<text transform="translate(617.25,454.00) scale(1,1.06)" text-anchor="middle" font-weight="bold" font-size="16">25</text>
<text transform="translate(636.80,454.00) scale(1,1.06)" text-anchor="middle" font-weight="bold" font-size="16">30</text>
<text transform="translate(656.35,454.00) scale(1,1.06)" text-anchor="middle" font-weight="bold" font-size="16">35</text>
<text transform="translate(675.90,454.00) scale(1,1.06)" text-anchor="middle" font-weight="bold" font-size="16">40</text>
<text transform="translate(514.50,255.21) scale(1,1.04)" text-anchor="end" font-weight="bold" font-size="16">0.3</text>
<text transform="translate(514.50,280.51) scale(1,1.04)" text-anchor="end" font-weight="bold" font-size="16">0.2</text>
<text transform="translate(514.50,306.11) scale(1,1.04)" text-anchor="end" font-weight="bold" font-size="16">0.1</text>
<text transform="translate(514.50,333.41) scale(1,1.04)" text-anchor="end" font-weight="bold" font-size="16">0.0</text>
<text transform="translate(514.50,360.21) scale(1,1.04)" text-anchor="end" font-weight="bold" font-size="16">-0.1</text>
<text transform="translate(514.50,386.41) scale(1,1.04)" text-anchor="end" font-weight="bold" font-size="16">-0.2</text>
<text transform="translate(514.50,413.11) scale(1,1.04)" text-anchor="end" font-weight="bold" font-size="16">-0.3</text>
<text transform="translate(514.50,438.91) scale(1,1.04)" text-anchor="end" font-weight="bold" font-size="16">-0.4</text>
<text transform="translate(13.00,179.95) rotate(-90) scale(1.0180,1)" font-size="16.64" font-weight="bold">Front wheel angle (rad)</text>
<text transform="translate(254.00,184.05) rotate(-90) scale(1.0287,1)" font-size="16.49" font-weight="bold">Front wheel angle (rad)</text>
<text transform="translate(483.80,181.85) rotate(-90) scale(0.9896,1)" font-size="17.10" font-weight="bold">Front wheel angle (rad)</text>
<text transform="translate(24.00,388.76) rotate(-90) scale(1.0018,1)" font-size="17.10" font-weight="bold">Yaw rate (rad/s)</text>
<text transform="translate(256.90,391.46) rotate(-90) scale(1.0001,1)" font-size="17.10" font-weight="bold">Yaw rate (rad/s)</text>
<text transform="translate(487.00,388.86) rotate(-90) scale(1.0035,1)" font-size="17.10" font-weight="bold">Yaw rate (rad/s)</text>
<text transform="translate(114.59,223.70) scale(0.8403,1)" font-size="18.63">T</text>
<text transform="translate(125.53,223.70) scale(1.2727,1)" font-size="18.33">i</text>
<text transform="translate(133.14,223.70) scale(0.7042,1)" font-size="18.30">m</text>
<text transform="translate(142.81,223.71) scale(1.1953,1)" font-size="18.54">e</text>
<text transform="translate(164.85,221.78) scale(1.5055,1)" font-size="14.07">(</text>
<text transform="translate(173.78,224.43) scale(1.0388,1)" font-size="16.67" font-weight="bold">s</text>
<text transform="translate(182.09,221.78) scale(1.4492,1)" font-size="14.07">)</text>
<text transform="translate(341.59,222.90) scale(0.8346,1)" font-size="18.63">T</text>
<text transform="translate(352.46,222.90) scale(1.2640,1)" font-size="18.33">i</text>
<text transform="translate(360.02,222.90) scale(0.6994,1)" font-size="18.30">m</text>
<text transform="translate(369.62,222.91) scale(1.1871,1)" font-size="18.54">e</text>
<text transform="translate(391.51,220.98) scale(1.4952,1)" font-size="14.07">(</text>
<text transform="translate(400.38,223.63) scale(1.0317,1)" font-size="16.67" font-weight="bold">s</text>
<text transform="translate(408.63,220.98) scale(1.4393,1)" font-size="14.07">)</text>
<text transform="translate(572.89,222.20) scale(0.8288,1)" font-size="18.63">T</text>
<text transform="translate(583.69,222.20) scale(1.2553,1)" font-size="18.33">i</text>
<text transform="translate(591.19,222.20) scale(0.6946,1)" font-size="18.30">m</text>
<text transform="translate(600.73,222.21) scale(1.1789,1)" font-size="18.54">e</text>
<text transform="translate(622.46,220.28) scale(1.4849,1)" font-size="14.07">(</text>
<text transform="translate(631.28,222.93) scale(1.0246,1)" font-size="16.67" font-weight="bold">s</text>
<text transform="translate(639.47,220.28) scale(1.4294,1)" font-size="14.07">)</text>
<text transform="translate(108.39,467.40) scale(0.8369,1)" font-size="18.63">T</text>
<text transform="translate(119.29,467.40) scale(1.2675,1)" font-size="18.33">i</text>
<text transform="translate(126.87,467.40) scale(0.7013,1)" font-size="18.30">m</text>
<text transform="translate(136.50,467.41) scale(1.1904,1)" font-size="18.54">e</text>
<text transform="translate(158.44,465.48) scale(1.4993,1)" font-size="14.07">(</text>
<text transform="translate(167.34,468.13) scale(1.0345,1)" font-size="16.67" font-weight="bold">s</text>
<text transform="translate(175.61,465.48) scale(1.4433,1)" font-size="14.07">)</text>
<text transform="translate(349.29,466.10) scale(0.8311,1)" font-size="18.63">T</text>
<text transform="translate(360.12,466.10) scale(1.2588,1)" font-size="18.33">i</text>
<text transform="translate(367.64,466.10) scale(0.6965,1)" font-size="18.30">m</text>
<text transform="translate(377.21,466.11) scale(1.1822,1)" font-size="18.54">e</text>
<text transform="translate(399.00,464.18) scale(1.4890,1)" font-size="14.07">(</text>
<text transform="translate(407.84,466.83) scale(1.0274,1)" font-size="16.67" font-weight="bold">s</text>
<text transform="translate(416.05,464.18) scale(1.4334,1)" font-size="14.07">)</text>
<text transform="translate(577.29,465.80) scale(0.8357,1)" font-size="18.63">T</text>
<text transform="translate(588.18,465.80) scale(1.2658,1)" font-size="18.33">i</text>
<text transform="translate(595.74,465.80) scale(0.7004,1)" font-size="18.30">m</text>
<text transform="translate(605.36,465.81) scale(1.1887,1)" font-size="18.54">e</text>
<text transform="translate(627.27,463.88) scale(1.4973,1)" font-size="14.07">(</text>
<text transform="translate(636.16,466.53) scale(1.0331,1)" font-size="16.67" font-weight="bold">s</text>
<text transform="translate(644.42,463.88) scale(1.4413,1)" font-size="14.07">)</text>
<text transform="translate(60.09,19.64) scale(1.0042,1)" font-size="16.17" font-weight="bold">Uncontrolled</text>
<text transform="translate(292.68,19.64) scale(1.0419,1)" font-size="15.66" font-weight="bold">Offline+ETDR</text>
<text transform="translate(523.06,18.95) scale(1.0478,1)" font-size="15.37" font-weight="bold">HSM</text>
<path d="M59.9 407.5H77.0" stroke="#f0f" stroke-width="1.6"/>
<path d="M59.9 429.6H77.0" stroke="#000" stroke-width="1.8"/>
<path d="M295.7 407.8H312.8" stroke="#f0f" stroke-width="1.6"/>
<path d="M295.7 429.6H312.8" stroke="#000" stroke-width="1.8"/>
<path d="M521.8 407.6H538.7" stroke="#f0f" stroke-width="1.6"/>
<path d="M521.8 430.0H538.7" stroke="#000" stroke-width="1.8"/>
<text transform="translate(83.59,410.25) scale(1.0607,1)" font-size="15.46" font-weight="bold">Uncontrolled</text>
<text transform="translate(86.35,431.95) scale(1.0935,1)" font-size="15.10" font-weight="bold">Reference</text>
<text transform="translate(319.18,410.25) scale(1.0810,1)" font-size="15.24" font-weight="bold">Offline+ETDR</text>
<text transform="translate(323.56,431.85) scale(1.0679,1)" font-size="15.24" font-weight="bold">Reference</text>
<text transform="translate(545.46,410.24) scale(1.0290,1)" font-size="15.52" font-weight="bold">HSM</text>
<text transform="translate(548.96,431.85) scale(1.0617,1)" font-size="15.24" font-weight="bold">Reference</text>
</g></svg></div></body></html>
